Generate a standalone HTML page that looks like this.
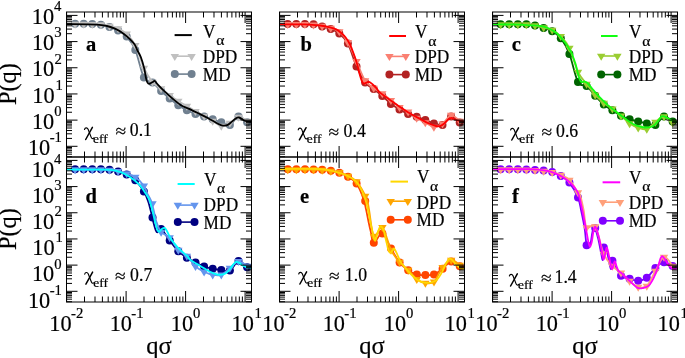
<!DOCTYPE html>
<html><head><meta charset="utf-8"><style>
html,body{margin:0;padding:0;background:#fff;}
svg{display:block;font-family:'Liberation Serif', serif;will-change:transform;}
text{stroke:currentColor;stroke-width:0.2px;}
</style></head><body>
<svg width="685" height="358" viewBox="0 0 685 358" font-family="Liberation Serif">
<rect width="685" height="358" fill="#fff"/>
<clipPath id="clip00"><rect x="66.50" y="12.00" width="185.00" height="145.00"/></clipPath>
<g clip-path="url(#clip00)">
<path d="M75.10 23.80C76.53 23.80 80.83 23.75 83.70 23.80C86.57 23.85 89.43 23.93 92.30 24.10C95.17 24.27 98.03 24.32 100.90 24.80C103.77 25.28 106.63 26.07 109.50 27.00C112.37 27.93 115.23 28.80 118.10 30.40C120.97 32.00 123.83 33.33 126.70 36.60C129.57 39.87 132.43 43.18 135.30 50.00C138.17 56.82 141.03 72.07 143.90 77.50C146.77 82.93 149.63 80.35 152.50 82.60C155.37 84.85 158.23 88.35 161.10 91.00C163.97 93.65 166.83 96.12 169.70 98.50C172.57 100.88 175.43 103.33 178.30 105.30C181.17 107.27 184.03 108.85 186.90 110.30C189.77 111.75 192.63 112.97 195.50 114.00C198.37 115.03 201.23 115.62 204.10 116.50C206.97 117.38 209.83 118.33 212.70 119.30C215.57 120.27 218.43 121.33 221.30 122.30C224.17 123.27 227.03 126.07 229.90 125.10C232.77 124.13 235.63 116.97 238.50 116.50C241.37 116.03 245.67 121.33 247.10 122.30" fill="none" stroke="#708090" stroke-width="1.8"/>
<circle cx="75.1" cy="23.8" r="4" fill="#708090"/>
<circle cx="83.7" cy="23.8" r="4" fill="#708090"/>
<circle cx="92.3" cy="24.1" r="4" fill="#708090"/>
<circle cx="100.9" cy="24.8" r="4" fill="#708090"/>
<circle cx="109.5" cy="27.0" r="4" fill="#708090"/>
<circle cx="118.1" cy="30.4" r="4" fill="#708090"/>
<circle cx="126.7" cy="36.6" r="4" fill="#708090"/>
<circle cx="135.3" cy="50.0" r="4" fill="#708090"/>
<circle cx="143.9" cy="77.5" r="4" fill="#708090"/>
<circle cx="152.5" cy="82.6" r="4" fill="#708090"/>
<circle cx="161.1" cy="91.0" r="4" fill="#708090"/>
<circle cx="169.7" cy="98.5" r="4" fill="#708090"/>
<circle cx="178.3" cy="105.3" r="4" fill="#708090"/>
<circle cx="186.9" cy="110.3" r="4" fill="#708090"/>
<circle cx="195.5" cy="114.0" r="4" fill="#708090"/>
<circle cx="204.1" cy="116.5" r="4" fill="#708090"/>
<circle cx="212.7" cy="119.3" r="4" fill="#708090"/>
<circle cx="221.3" cy="122.3" r="4" fill="#708090"/>
<circle cx="229.9" cy="125.1" r="4" fill="#708090"/>
<circle cx="238.5" cy="116.5" r="4" fill="#708090"/>
<circle cx="247.1" cy="122.3" r="4" fill="#708090"/>
<path d="M75.10 24.00C76.53 24.00 80.83 23.97 83.70 24.00C86.57 24.03 89.43 24.10 92.30 24.20C95.17 24.30 98.03 24.30 100.90 24.60C103.77 24.90 106.63 25.35 109.50 26.00C112.37 26.65 115.23 27.18 118.10 28.50C120.97 29.82 123.83 31.10 126.70 33.90C129.57 36.70 132.43 39.62 135.30 45.30C138.17 50.98 141.03 61.88 143.90 68.00C146.77 74.12 149.63 78.58 152.50 82.00C155.37 85.42 158.23 86.30 161.10 88.50C163.97 90.70 166.83 93.12 169.70 95.20C172.57 97.28 175.43 99.18 178.30 101.00C181.17 102.82 184.03 104.40 186.90 106.10C189.77 107.80 192.63 109.55 195.50 111.20C198.37 112.85 201.23 114.37 204.10 116.00C206.97 117.63 209.83 119.33 212.70 121.00C215.57 122.67 218.43 125.67 221.30 126.00C224.17 126.33 227.03 124.50 229.90 123.00C232.77 121.50 235.63 117.33 238.50 117.00C241.37 116.67 245.67 120.33 247.10 121.00" fill="none" stroke="#c0c0c0" stroke-width="1.8"/>
<path d="M70.9 21.7L79.3 21.7L75.1 28.7Z" fill="#c0c0c0"/>
<path d="M79.5 21.7L87.9 21.7L83.7 28.7Z" fill="#c0c0c0"/>
<path d="M88.1 21.9L96.5 21.9L92.3 28.9Z" fill="#c0c0c0"/>
<path d="M96.7 22.3L105.1 22.3L100.9 29.3Z" fill="#c0c0c0"/>
<path d="M105.3 23.7L113.7 23.7L109.5 30.7Z" fill="#c0c0c0"/>
<path d="M113.9 26.2L122.3 26.2L118.1 33.2Z" fill="#c0c0c0"/>
<path d="M122.5 31.6L130.9 31.6L126.7 38.6Z" fill="#c0c0c0"/>
<path d="M131.1 43.0L139.5 43.0L135.3 50.0Z" fill="#c0c0c0"/>
<path d="M139.7 65.7L148.1 65.7L143.9 72.7Z" fill="#c0c0c0"/>
<path d="M148.3 79.7L156.7 79.7L152.5 86.7Z" fill="#c0c0c0"/>
<path d="M156.9 86.2L165.3 86.2L161.1 93.2Z" fill="#c0c0c0"/>
<path d="M165.5 92.9L173.9 92.9L169.7 99.9Z" fill="#c0c0c0"/>
<path d="M174.1 98.7L182.5 98.7L178.3 105.7Z" fill="#c0c0c0"/>
<path d="M182.7 103.8L191.1 103.8L186.9 110.8Z" fill="#c0c0c0"/>
<path d="M191.3 108.9L199.7 108.9L195.5 115.9Z" fill="#c0c0c0"/>
<path d="M199.9 113.7L208.3 113.7L204.1 120.7Z" fill="#c0c0c0"/>
<path d="M208.5 118.7L216.9 118.7L212.7 125.7Z" fill="#c0c0c0"/>
<path d="M217.1 123.7L225.5 123.7L221.3 130.7Z" fill="#c0c0c0"/>
<path d="M225.7 120.7L234.1 120.7L229.9 127.7Z" fill="#c0c0c0"/>
<path d="M234.3 114.7L242.7 114.7L238.5 121.7Z" fill="#c0c0c0"/>
<path d="M242.9 118.7L251.3 118.7L247.1 125.7Z" fill="#c0c0c0"/>
<path d="M66.60 24.10C71.62 24.18 89.98 24.28 96.70 24.60C103.42 24.92 103.85 25.33 106.90 26.00C109.95 26.67 112.28 27.37 115.00 28.60C117.72 29.83 120.80 31.73 123.20 33.40C125.60 35.07 127.52 36.80 129.40 38.60C131.28 40.40 133.20 42.30 134.50 44.20C135.80 46.10 136.15 47.87 137.20 50.00C138.25 52.13 139.63 53.93 140.80 57.00C141.97 60.07 143.32 64.80 144.20 68.40C145.08 72.00 145.55 76.23 146.10 78.60C146.65 80.97 146.98 81.73 147.50 82.60C148.02 83.47 148.32 83.90 149.20 83.80C150.08 83.70 151.97 82.47 152.80 82.00C153.63 81.53 153.77 81.10 154.20 81.00C154.63 80.90 154.83 80.85 155.40 81.40C155.97 81.95 155.98 82.55 157.60 84.30C159.22 86.05 162.45 89.38 165.10 91.90C167.75 94.42 170.85 97.17 173.50 99.40C176.15 101.63 178.48 103.77 181.00 105.30C183.52 106.83 185.70 107.27 188.60 108.60C191.50 109.93 195.13 111.70 198.40 113.30C201.67 114.90 204.95 116.47 208.20 118.20C211.45 119.93 215.47 122.47 217.90 123.70C220.33 124.93 221.17 125.40 222.80 125.60C224.43 125.80 226.18 125.57 227.70 124.90C229.22 124.23 230.50 122.72 231.90 121.60C233.30 120.48 234.93 118.88 236.10 118.20C237.27 117.52 237.97 117.38 238.90 117.50C239.83 117.62 240.65 118.32 241.70 118.90C242.75 119.48 243.55 120.55 245.20 121.00C246.85 121.45 250.53 121.50 251.60 121.60" fill="none" stroke="#000000" stroke-width="1.8" stroke-linejoin="round"/>
</g>
<line x1="174.6" y1="35.1" x2="191.8" y2="35.1" stroke="#000000" stroke-width="2"/>
<line x1="174.8" y1="56.2" x2="191.6" y2="56.2" stroke="#c0c0c0" stroke-width="1.6"/>
<path d="M170.6 53.9L179.0 53.9L174.8 60.9Z" fill="#c0c0c0"/>
<path d="M187.4 53.9L195.8 53.9L191.6 60.9Z" fill="#c0c0c0"/>
<line x1="174.8" y1="74.1" x2="191.6" y2="74.1" stroke="#708090" stroke-width="1.6"/>
<circle cx="174.8" cy="74.1" r="4" fill="#708090"/>
<circle cx="191.6" cy="74.1" r="4" fill="#708090"/>
<text transform="translate(203.11,37.80) scale(0.97,1)" font-size="17.8" fill="#000" >V</text>
<text transform="translate(216.31,45.20) scale(1.1,1)" font-size="14.2" fill="#000" >α</text>
<text transform="translate(202.80,62.90) scale(0.97,1)" font-size="17.8" fill="#000" >DPD</text>
<text transform="translate(202.80,80.50) scale(0.97,1)" font-size="17.8" fill="#000" >MD</text>
<clipPath id="clip10"><rect x="279.50" y="12.00" width="185.00" height="145.00"/></clipPath>
<g clip-path="url(#clip10)">
<path d="M287.70 24.10C289.13 24.10 293.43 24.10 296.30 24.10C299.17 24.10 302.03 24.08 304.90 24.10C307.77 24.12 310.63 23.80 313.50 24.20C316.37 24.60 319.23 25.72 322.10 26.50C324.97 27.28 327.83 27.72 330.70 28.90C333.57 30.08 336.43 31.15 339.30 33.60C342.17 36.05 345.03 38.13 347.90 43.60C350.77 49.07 353.63 59.92 356.50 66.40C359.37 72.88 362.23 78.72 365.10 82.50C367.97 86.28 370.83 86.85 373.70 89.10C376.57 91.35 379.43 93.53 382.30 96.00C385.17 98.47 388.03 101.67 390.90 103.90C393.77 106.13 396.63 107.73 399.50 109.40C402.37 111.07 405.23 112.67 408.10 113.90C410.97 115.13 413.83 115.78 416.70 116.80C419.57 117.82 422.43 118.88 425.30 120.00C428.17 121.12 431.03 122.68 433.90 123.50C436.77 124.32 439.63 126.07 442.50 124.90C445.37 123.73 448.23 116.92 451.10 116.50C453.97 116.08 458.27 121.42 459.70 122.40" fill="none" stroke="#b22222" stroke-width="1.8"/>
<circle cx="287.7" cy="24.1" r="4" fill="#b22222"/>
<circle cx="296.3" cy="24.1" r="4" fill="#b22222"/>
<circle cx="304.9" cy="24.1" r="4" fill="#b22222"/>
<circle cx="313.5" cy="24.2" r="4" fill="#b22222"/>
<circle cx="322.1" cy="26.5" r="4" fill="#b22222"/>
<circle cx="330.7" cy="28.9" r="4" fill="#b22222"/>
<circle cx="339.3" cy="33.6" r="4" fill="#b22222"/>
<circle cx="347.9" cy="43.6" r="4" fill="#b22222"/>
<circle cx="356.5" cy="66.4" r="4" fill="#b22222"/>
<circle cx="365.1" cy="82.5" r="4" fill="#b22222"/>
<circle cx="373.7" cy="89.1" r="4" fill="#b22222"/>
<circle cx="382.3" cy="96.0" r="4" fill="#b22222"/>
<circle cx="390.9" cy="103.9" r="4" fill="#b22222"/>
<circle cx="399.5" cy="109.4" r="4" fill="#b22222"/>
<circle cx="408.1" cy="113.9" r="4" fill="#b22222"/>
<circle cx="416.7" cy="116.8" r="4" fill="#b22222"/>
<circle cx="425.3" cy="120.0" r="4" fill="#b22222"/>
<circle cx="433.9" cy="123.5" r="4" fill="#b22222"/>
<circle cx="442.5" cy="124.9" r="4" fill="#b22222"/>
<circle cx="451.1" cy="116.5" r="4" fill="#b22222"/>
<circle cx="459.7" cy="122.4" r="4" fill="#b22222"/>
<path d="M287.70 24.30C289.13 24.30 293.43 24.28 296.30 24.30C299.17 24.32 302.03 24.33 304.90 24.40C307.77 24.47 310.63 24.43 313.50 24.70C316.37 24.97 319.23 25.45 322.10 26.00C324.97 26.55 327.83 27.08 330.70 28.00C333.57 28.92 336.43 29.12 339.30 31.50C342.17 33.88 345.03 37.32 347.90 42.30C350.77 47.28 353.63 55.03 356.50 61.40C359.37 67.77 362.23 76.07 365.10 80.50C367.97 84.93 370.83 85.83 373.70 88.00C376.57 90.17 379.43 91.47 382.30 93.50C385.17 95.53 388.03 97.92 390.90 100.20C393.77 102.48 396.63 105.25 399.50 107.20C402.37 109.15 405.23 110.10 408.10 111.90C410.97 113.70 413.83 116.23 416.70 118.00C419.57 119.77 422.43 121.00 425.30 122.50C428.17 124.00 431.03 126.78 433.90 127.00C436.77 127.22 439.63 125.78 442.50 123.80C445.37 121.82 448.23 115.57 451.10 115.10C453.97 114.63 458.27 120.02 459.70 121.00" fill="none" stroke="#fa8072" stroke-width="1.8"/>
<path d="M283.5 22.0L291.9 22.0L287.7 29.0Z" fill="#fa8072"/>
<path d="M292.1 22.0L300.5 22.0L296.3 29.0Z" fill="#fa8072"/>
<path d="M300.7 22.1L309.1 22.1L304.9 29.1Z" fill="#fa8072"/>
<path d="M309.3 22.4L317.7 22.4L313.5 29.4Z" fill="#fa8072"/>
<path d="M317.9 23.7L326.3 23.7L322.1 30.7Z" fill="#fa8072"/>
<path d="M326.5 25.7L334.9 25.7L330.7 32.7Z" fill="#fa8072"/>
<path d="M335.1 29.2L343.5 29.2L339.3 36.2Z" fill="#fa8072"/>
<path d="M343.7 40.0L352.1 40.0L347.9 47.0Z" fill="#fa8072"/>
<path d="M352.3 59.1L360.7 59.1L356.5 66.1Z" fill="#fa8072"/>
<path d="M360.9 78.2L369.3 78.2L365.1 85.2Z" fill="#fa8072"/>
<path d="M369.5 85.7L377.9 85.7L373.7 92.7Z" fill="#fa8072"/>
<path d="M378.1 91.2L386.5 91.2L382.3 98.2Z" fill="#fa8072"/>
<path d="M386.7 97.9L395.1 97.9L390.9 104.9Z" fill="#fa8072"/>
<path d="M395.3 104.9L403.7 104.9L399.5 111.9Z" fill="#fa8072"/>
<path d="M403.9 109.6L412.3 109.6L408.1 116.6Z" fill="#fa8072"/>
<path d="M412.5 115.7L420.9 115.7L416.7 122.7Z" fill="#fa8072"/>
<path d="M421.1 120.2L429.5 120.2L425.3 127.2Z" fill="#fa8072"/>
<path d="M429.7 124.7L438.1 124.7L433.9 131.7Z" fill="#fa8072"/>
<path d="M438.3 121.5L446.7 121.5L442.5 128.5Z" fill="#fa8072"/>
<path d="M446.9 112.8L455.3 112.8L451.1 119.8Z" fill="#fa8072"/>
<path d="M455.5 118.7L463.9 118.7L459.7 125.7Z" fill="#fa8072"/>
<path d="M279.60 24.30C283.83 24.32 298.27 24.20 305.00 24.40C311.73 24.60 315.83 25.02 320.00 25.50C324.17 25.98 327.30 26.65 330.00 27.30C332.70 27.95 334.38 28.50 336.20 29.40C338.02 30.30 339.35 31.38 340.90 32.70C342.45 34.02 343.98 35.33 345.50 37.30C347.02 39.27 348.65 41.78 350.00 44.50C351.35 47.22 352.53 50.72 353.60 53.60C354.67 56.48 355.63 59.37 356.40 61.80C357.17 64.23 357.60 65.92 358.20 68.20C358.80 70.48 359.40 73.38 360.00 75.50C360.60 77.62 361.20 79.55 361.80 80.90C362.40 82.25 362.83 83.30 363.60 83.60C364.37 83.90 365.48 83.00 366.40 82.70C367.32 82.40 368.05 81.50 369.10 81.80C370.15 82.10 371.48 83.43 372.70 84.50C373.92 85.57 375.18 86.83 376.40 88.20C377.62 89.57 378.27 91.12 380.00 92.70C381.73 94.28 383.72 95.48 386.80 97.70C389.88 99.92 394.60 103.35 398.50 106.00C402.40 108.65 406.52 111.40 410.20 113.60C413.88 115.80 417.47 117.55 420.60 119.20C423.73 120.85 426.43 122.37 429.00 123.50C431.57 124.63 434.15 125.58 436.00 126.00C437.85 126.42 438.72 126.42 440.10 126.00C441.48 125.58 442.90 124.62 444.30 123.50C445.70 122.38 447.33 120.23 448.50 119.30C449.67 118.37 450.37 117.95 451.30 117.90C452.23 117.85 452.93 118.53 454.10 119.00C455.27 119.47 456.55 120.30 458.30 120.70C460.05 121.10 463.55 121.28 464.60 121.40" fill="none" stroke="#ff0000" stroke-width="1.8" stroke-linejoin="round"/>
</g>
<line x1="389.2" y1="36.0" x2="406.0" y2="36.0" stroke="#ff0000" stroke-width="2"/>
<line x1="389.4" y1="56.4" x2="405.8" y2="56.4" stroke="#fa8072" stroke-width="1.6"/>
<path d="M385.2 54.1L393.6 54.1L389.4 61.1Z" fill="#fa8072"/>
<path d="M401.6 54.1L410.0 54.1L405.8 61.1Z" fill="#fa8072"/>
<line x1="389.4" y1="74.6" x2="405.8" y2="74.6" stroke="#b22222" stroke-width="1.6"/>
<circle cx="389.4" cy="74.6" r="4" fill="#b22222"/>
<circle cx="405.8" cy="74.6" r="4" fill="#b22222"/>
<text transform="translate(415.01,38.20) scale(0.97,1)" font-size="17.8" fill="#000" >V</text>
<text transform="translate(428.21,45.60) scale(1.1,1)" font-size="14.2" fill="#000" >α</text>
<text transform="translate(414.70,63.20) scale(0.97,1)" font-size="17.8" fill="#000" >DPD</text>
<text transform="translate(414.70,80.90) scale(0.97,1)" font-size="17.8" fill="#000" >MD</text>
<clipPath id="clip20"><rect x="492.50" y="12.00" width="185.00" height="145.00"/></clipPath>
<g clip-path="url(#clip20)">
<path d="M500.60 24.20C502.03 24.20 506.33 24.20 509.20 24.20C512.07 24.20 514.93 24.18 517.80 24.20C520.67 24.22 523.53 24.10 526.40 24.30C529.27 24.50 532.13 24.78 535.00 25.40C537.87 26.02 540.73 27.03 543.60 28.00C546.47 28.97 549.33 29.48 552.20 31.20C555.07 32.92 557.93 34.50 560.80 38.30C563.67 42.10 566.53 46.72 569.40 54.00C572.27 61.28 575.13 76.67 578.00 82.00C580.87 87.33 583.73 83.72 586.60 86.00C589.47 88.28 592.33 92.60 595.20 95.70C598.07 98.80 600.93 102.17 603.80 104.60C606.67 107.03 609.53 108.43 612.40 110.30C615.27 112.17 618.13 114.30 621.00 115.80C623.87 117.30 626.73 118.37 629.60 119.30C632.47 120.23 635.33 120.70 638.20 121.40C641.07 122.10 643.93 122.92 646.80 123.50C649.67 124.08 652.53 126.07 655.40 124.90C658.27 123.73 661.13 117.08 664.00 116.50C666.87 115.92 671.17 120.58 672.60 121.40" fill="none" stroke="#006400" stroke-width="1.8"/>
<circle cx="500.6" cy="24.2" r="4" fill="#006400"/>
<circle cx="509.2" cy="24.2" r="4" fill="#006400"/>
<circle cx="517.8" cy="24.2" r="4" fill="#006400"/>
<circle cx="526.4" cy="24.3" r="4" fill="#006400"/>
<circle cx="535.0" cy="25.4" r="4" fill="#006400"/>
<circle cx="543.6" cy="28.0" r="4" fill="#006400"/>
<circle cx="552.2" cy="31.2" r="4" fill="#006400"/>
<circle cx="560.8" cy="38.3" r="4" fill="#006400"/>
<circle cx="569.4" cy="54.0" r="4" fill="#006400"/>
<circle cx="578.0" cy="82.0" r="4" fill="#006400"/>
<circle cx="586.6" cy="86.0" r="4" fill="#006400"/>
<circle cx="595.2" cy="95.7" r="4" fill="#006400"/>
<circle cx="603.8" cy="104.6" r="4" fill="#006400"/>
<circle cx="612.4" cy="110.3" r="4" fill="#006400"/>
<circle cx="621.0" cy="115.8" r="4" fill="#006400"/>
<circle cx="629.6" cy="119.3" r="4" fill="#006400"/>
<circle cx="638.2" cy="121.4" r="4" fill="#006400"/>
<circle cx="646.8" cy="123.5" r="4" fill="#006400"/>
<circle cx="655.4" cy="124.9" r="4" fill="#006400"/>
<circle cx="664.0" cy="116.5" r="4" fill="#006400"/>
<circle cx="672.6" cy="121.4" r="4" fill="#006400"/>
<path d="M500.60 24.50C502.03 24.50 506.33 24.50 509.20 24.50C512.07 24.50 514.93 24.48 517.80 24.50C520.67 24.52 523.53 24.43 526.40 24.60C529.27 24.77 532.13 25.02 535.00 25.50C537.87 25.98 540.73 26.75 543.60 27.50C546.47 28.25 549.33 28.52 552.20 30.00C555.07 31.48 557.93 33.40 560.80 36.40C563.67 39.40 566.53 42.07 569.40 48.00C572.27 53.93 575.13 66.00 578.00 72.00C580.87 78.00 583.73 80.17 586.60 84.00C589.47 87.83 592.33 91.83 595.20 95.00C598.07 98.17 600.93 100.68 603.80 103.00C606.67 105.32 609.53 106.77 612.40 108.90C615.27 111.03 618.13 113.37 621.00 115.80C623.87 118.23 626.73 121.52 629.60 123.50C632.47 125.48 635.33 126.77 638.20 127.70C641.07 128.63 643.93 130.03 646.80 129.10C649.67 128.17 652.53 124.20 655.40 122.10C658.27 120.00 661.13 116.38 664.00 116.50C666.87 116.62 671.17 121.75 672.60 122.80" fill="none" stroke="#9acd32" stroke-width="1.8"/>
<path d="M496.4 22.2L504.8 22.2L500.6 29.2Z" fill="#9acd32"/>
<path d="M505.0 22.2L513.4 22.2L509.2 29.2Z" fill="#9acd32"/>
<path d="M513.6 22.2L522.0 22.2L517.8 29.2Z" fill="#9acd32"/>
<path d="M522.2 22.3L530.6 22.3L526.4 29.3Z" fill="#9acd32"/>
<path d="M530.8 23.2L539.2 23.2L535.0 30.2Z" fill="#9acd32"/>
<path d="M539.4 25.2L547.8 25.2L543.6 32.2Z" fill="#9acd32"/>
<path d="M548.0 27.7L556.4 27.7L552.2 34.7Z" fill="#9acd32"/>
<path d="M556.6 34.1L565.0 34.1L560.8 41.1Z" fill="#9acd32"/>
<path d="M565.2 45.7L573.6 45.7L569.4 52.7Z" fill="#9acd32"/>
<path d="M573.8 69.7L582.2 69.7L578.0 76.7Z" fill="#9acd32"/>
<path d="M582.4 81.7L590.8 81.7L586.6 88.7Z" fill="#9acd32"/>
<path d="M591.0 92.7L599.4 92.7L595.2 99.7Z" fill="#9acd32"/>
<path d="M599.6 100.7L608.0 100.7L603.8 107.7Z" fill="#9acd32"/>
<path d="M608.2 106.6L616.6 106.6L612.4 113.6Z" fill="#9acd32"/>
<path d="M616.8 113.5L625.2 113.5L621.0 120.5Z" fill="#9acd32"/>
<path d="M625.4 121.2L633.8 121.2L629.6 128.2Z" fill="#9acd32"/>
<path d="M634.0 125.4L642.4 125.4L638.2 132.4Z" fill="#9acd32"/>
<path d="M642.6 126.8L651.0 126.8L646.8 133.8Z" fill="#9acd32"/>
<path d="M651.2 119.8L659.6 119.8L655.4 126.8Z" fill="#9acd32"/>
<path d="M659.8 114.2L668.2 114.2L664.0 121.2Z" fill="#9acd32"/>
<path d="M668.4 120.5L676.8 120.5L672.6 127.5Z" fill="#9acd32"/>
<path d="M492.60 24.40C497.17 24.43 513.77 24.45 520.00 24.60C526.23 24.75 526.67 25.08 530.00 25.30C533.33 25.52 536.93 25.42 540.00 25.90C543.07 26.38 545.60 26.97 548.40 28.20C551.20 29.43 554.38 31.37 556.80 33.30C559.22 35.23 561.28 37.93 562.90 39.80C564.52 41.67 565.35 42.83 566.50 44.50C567.65 46.17 568.92 48.30 569.80 49.80C570.68 51.30 570.98 51.55 571.80 53.50C572.62 55.45 574.00 59.50 574.70 61.50C575.40 63.50 575.52 63.70 576.00 65.50C576.48 67.30 577.00 70.03 577.60 72.30C578.20 74.57 578.95 77.48 579.60 79.10C580.25 80.72 580.70 81.60 581.50 82.00C582.30 82.40 583.42 81.33 584.40 81.50C585.38 81.67 585.93 81.60 587.40 83.00C588.87 84.40 591.25 87.62 593.20 89.90C595.15 92.18 596.72 94.20 599.10 96.70C601.48 99.20 604.55 102.30 607.50 104.90C610.45 107.50 613.87 110.02 616.80 112.30C619.73 114.58 622.32 116.62 625.10 118.60C627.88 120.58 630.70 122.80 633.50 124.20C636.30 125.60 639.33 126.47 641.90 127.00C644.47 127.53 646.92 127.63 648.90 127.40C650.88 127.17 652.17 126.83 653.80 125.60C655.43 124.37 657.42 121.52 658.70 120.00C659.98 118.48 660.58 117.12 661.50 116.50C662.42 115.88 663.05 115.95 664.20 116.30C665.35 116.65 667.00 117.82 668.40 118.60C669.80 119.38 671.07 120.43 672.60 121.00C674.13 121.57 676.77 121.83 677.60 122.00" fill="none" stroke="#11ff11" stroke-width="1.8" stroke-linejoin="round"/>
</g>
<line x1="601.0" y1="36.0" x2="617.6" y2="36.0" stroke="#11ff11" stroke-width="2"/>
<line x1="601.2" y1="56.0" x2="617.4" y2="56.0" stroke="#9acd32" stroke-width="1.6"/>
<path d="M597.0 53.7L605.4 53.7L601.2 60.7Z" fill="#9acd32"/>
<path d="M613.2 53.7L621.6 53.7L617.4 60.7Z" fill="#9acd32"/>
<line x1="601.2" y1="74.6" x2="617.4" y2="74.6" stroke="#006400" stroke-width="1.6"/>
<circle cx="601.2" cy="74.6" r="4" fill="#006400"/>
<circle cx="617.4" cy="74.6" r="4" fill="#006400"/>
<text transform="translate(629.01,38.20) scale(0.97,1)" font-size="17.8" fill="#000" >V</text>
<text transform="translate(642.21,45.60) scale(1.1,1)" font-size="14.2" fill="#000" >α</text>
<text transform="translate(628.70,63.20) scale(0.97,1)" font-size="17.8" fill="#000" >DPD</text>
<text transform="translate(628.70,80.90) scale(0.97,1)" font-size="17.8" fill="#000" >MD</text>
<clipPath id="clip01"><rect x="66.50" y="157.00" width="185.00" height="145.00"/></clipPath>
<g clip-path="url(#clip01)">
<path d="M75.10 169.20C76.53 169.20 80.83 169.20 83.70 169.20C86.57 169.20 89.43 169.18 92.30 169.20C95.17 169.22 98.03 169.20 100.90 169.30C103.77 169.40 106.63 169.42 109.50 169.80C112.37 170.18 115.23 170.80 118.10 171.60C120.97 172.40 123.83 173.15 126.70 174.60C129.57 176.05 132.43 177.50 135.30 180.30C138.17 183.10 141.75 187.87 143.90 191.40C146.05 194.93 147.00 198.03 148.20 201.50C149.40 204.97 150.23 208.75 151.10 212.20C151.97 215.65 152.63 219.22 153.40 222.20C154.17 225.18 155.03 228.42 155.70 230.10C156.37 231.78 156.50 232.48 157.40 232.30C158.30 232.12 159.05 227.63 161.10 229.00C163.15 230.37 166.83 236.80 169.70 240.50C172.57 244.20 175.43 248.33 178.30 251.20C181.17 254.07 184.03 255.80 186.90 257.70C189.77 259.60 192.63 261.13 195.50 262.60C198.37 264.07 201.23 265.47 204.10 266.50C206.97 267.53 209.83 268.22 212.70 268.80C215.57 269.38 218.43 269.70 221.30 270.00C224.17 270.30 227.03 272.08 229.90 270.60C232.77 269.12 235.63 261.67 238.50 261.10C241.37 260.53 245.67 266.18 247.10 267.20" fill="none" stroke="#000080" stroke-width="1.8"/>
<circle cx="75.1" cy="169.2" r="4" fill="#000080"/>
<circle cx="83.7" cy="169.2" r="4" fill="#000080"/>
<circle cx="92.3" cy="169.2" r="4" fill="#000080"/>
<circle cx="100.9" cy="169.3" r="4" fill="#000080"/>
<circle cx="109.5" cy="169.8" r="4" fill="#000080"/>
<circle cx="118.1" cy="171.6" r="4" fill="#000080"/>
<circle cx="126.7" cy="174.6" r="4" fill="#000080"/>
<circle cx="135.3" cy="180.3" r="4" fill="#000080"/>
<circle cx="143.9" cy="191.4" r="4" fill="#000080"/>
<circle cx="152.5" cy="217.6" r="4" fill="#000080"/>
<circle cx="161.1" cy="229.0" r="4" fill="#000080"/>
<circle cx="169.7" cy="240.5" r="4" fill="#000080"/>
<circle cx="178.3" cy="251.2" r="4" fill="#000080"/>
<circle cx="186.9" cy="257.7" r="4" fill="#000080"/>
<circle cx="195.5" cy="262.6" r="4" fill="#000080"/>
<circle cx="204.1" cy="266.5" r="4" fill="#000080"/>
<circle cx="212.7" cy="268.8" r="4" fill="#000080"/>
<circle cx="221.3" cy="270.0" r="4" fill="#000080"/>
<circle cx="229.9" cy="270.6" r="4" fill="#000080"/>
<circle cx="238.5" cy="261.1" r="4" fill="#000080"/>
<circle cx="247.1" cy="267.2" r="4" fill="#000080"/>
<path d="M75.10 169.50C76.53 169.50 80.83 169.50 83.70 169.50C86.57 169.50 89.43 169.48 92.30 169.50C95.17 169.52 98.03 169.52 100.90 169.60C103.77 169.68 106.63 169.72 109.50 170.00C112.37 170.28 115.23 170.72 118.10 171.30C120.97 171.88 123.83 172.53 126.70 173.50C129.57 174.47 132.43 175.03 135.30 177.10C138.17 179.17 141.88 183.12 143.90 185.90C145.92 188.68 146.22 191.37 147.40 193.80C148.58 196.23 149.92 197.60 151.00 200.50C152.08 203.40 153.03 207.75 153.90 211.20C154.77 214.65 155.00 217.73 156.20 221.20C157.40 224.67 158.85 229.28 161.10 232.00C163.35 234.72 166.83 234.50 169.70 237.50C172.57 240.50 175.43 246.92 178.30 250.00C181.17 253.08 184.03 253.28 186.90 256.00C189.77 258.72 192.63 263.68 195.50 266.30C198.37 268.92 201.23 270.28 204.10 271.70C206.97 273.12 209.83 274.28 212.70 274.80C215.57 275.32 218.43 275.93 221.30 274.80C224.17 273.67 227.03 270.25 229.90 268.00C232.77 265.75 235.63 261.63 238.50 261.30C241.37 260.97 245.67 265.22 247.10 266.00" fill="none" stroke="#6495ed" stroke-width="1.8"/>
<path d="M70.9 167.2L79.3 167.2L75.1 174.2Z" fill="#6495ed"/>
<path d="M79.5 167.2L87.9 167.2L83.7 174.2Z" fill="#6495ed"/>
<path d="M88.1 167.2L96.5 167.2L92.3 174.2Z" fill="#6495ed"/>
<path d="M96.7 167.3L105.1 167.3L100.9 174.3Z" fill="#6495ed"/>
<path d="M105.3 167.7L113.7 167.7L109.5 174.7Z" fill="#6495ed"/>
<path d="M113.9 169.0L122.3 169.0L118.1 176.0Z" fill="#6495ed"/>
<path d="M122.5 171.2L130.9 171.2L126.7 178.2Z" fill="#6495ed"/>
<path d="M131.1 174.8L139.5 174.8L135.3 181.8Z" fill="#6495ed"/>
<path d="M139.7 183.6L148.1 183.6L143.9 190.6Z" fill="#6495ed"/>
<path d="M148.3 201.2L156.7 201.2L152.5 208.2Z" fill="#6495ed"/>
<path d="M156.9 229.7L165.3 229.7L161.1 236.7Z" fill="#6495ed"/>
<path d="M165.5 235.2L173.9 235.2L169.7 242.2Z" fill="#6495ed"/>
<path d="M174.1 247.7L182.5 247.7L178.3 254.7Z" fill="#6495ed"/>
<path d="M182.7 253.7L191.1 253.7L186.9 260.7Z" fill="#6495ed"/>
<path d="M191.3 264.0L199.7 264.0L195.5 271.0Z" fill="#6495ed"/>
<path d="M199.9 269.4L208.3 269.4L204.1 276.4Z" fill="#6495ed"/>
<path d="M208.5 272.5L216.9 272.5L212.7 279.5Z" fill="#6495ed"/>
<path d="M217.1 272.5L225.5 272.5L221.3 279.5Z" fill="#6495ed"/>
<path d="M225.7 265.7L234.1 265.7L229.9 272.7Z" fill="#6495ed"/>
<path d="M234.3 259.0L242.7 259.0L238.5 266.0Z" fill="#6495ed"/>
<path d="M242.9 263.7L251.3 263.7L247.1 270.7Z" fill="#6495ed"/>
<path d="M66.60 169.50C72.17 169.52 92.77 169.53 100.00 169.60C107.23 169.67 106.70 169.53 110.00 169.90C113.30 170.27 116.53 170.67 119.80 171.80C123.07 172.93 126.35 174.57 129.60 176.70C132.85 178.83 136.53 181.67 139.30 184.60C142.07 187.53 144.45 191.57 146.20 194.30C147.95 197.03 148.72 198.10 149.80 201.00C150.88 203.90 151.83 208.25 152.70 211.70C153.57 215.15 154.23 218.72 155.00 221.70C155.77 224.68 156.63 227.92 157.30 229.60C157.97 231.28 158.25 231.90 159.00 231.80C159.75 231.70 160.87 229.65 161.80 229.00C162.73 228.35 163.68 227.43 164.60 227.90C165.52 228.37 166.28 230.03 167.30 231.80C168.32 233.57 169.58 236.63 170.70 238.50C171.82 240.37 172.60 241.27 174.00 243.00C175.40 244.73 176.95 246.78 179.10 248.90C181.25 251.02 185.08 253.92 186.90 255.70C188.72 257.48 188.47 258.32 190.00 259.60C191.53 260.88 194.05 262.13 196.10 263.40C198.15 264.67 199.98 265.80 202.30 267.20C204.62 268.60 207.45 270.57 210.00 271.80C212.55 273.03 215.30 274.22 217.60 274.60C219.90 274.98 222.00 274.68 223.80 274.10C225.60 273.52 226.87 272.63 228.40 271.10C229.93 269.57 231.73 266.43 233.00 264.90C234.27 263.37 234.98 262.28 236.00 261.90C237.02 261.52 237.93 261.97 239.10 262.60C240.27 263.23 241.47 264.88 243.00 265.70C244.53 266.52 246.87 267.15 248.30 267.50C249.73 267.85 251.05 267.75 251.60 267.80" fill="none" stroke="#00ffff" stroke-width="1.8" stroke-linejoin="round"/>
</g>
<line x1="177.6" y1="184.0" x2="194.7" y2="184.0" stroke="#00ffff" stroke-width="2"/>
<line x1="177.8" y1="205.1" x2="194.5" y2="205.1" stroke="#6495ed" stroke-width="1.6"/>
<path d="M173.6 202.8L182.0 202.8L177.8 209.8Z" fill="#6495ed"/>
<path d="M190.3 202.8L198.7 202.8L194.5 209.8Z" fill="#6495ed"/>
<line x1="177.8" y1="222.1" x2="194.5" y2="222.1" stroke="#000080" stroke-width="1.6"/>
<circle cx="177.8" cy="222.1" r="4" fill="#000080"/>
<circle cx="194.5" cy="222.1" r="4" fill="#000080"/>
<text transform="translate(203.91,185.90) scale(0.97,1)" font-size="17.8" fill="#000" >V</text>
<text transform="translate(217.11,193.30) scale(1.1,1)" font-size="14.2" fill="#000" >α</text>
<text transform="translate(203.60,211.00) scale(0.97,1)" font-size="17.8" fill="#000" >DPD</text>
<text transform="translate(203.60,228.70) scale(0.97,1)" font-size="17.8" fill="#000" >MD</text>
<clipPath id="clip11"><rect x="279.50" y="157.00" width="185.00" height="145.00"/></clipPath>
<g clip-path="url(#clip11)">
<path d="M287.80 169.20C289.23 169.20 293.53 169.20 296.40 169.20C299.27 169.20 302.13 169.17 305.00 169.20C307.87 169.23 310.73 169.30 313.60 169.40C316.47 169.50 319.33 169.57 322.20 169.80C325.07 170.03 327.93 170.30 330.80 170.80C333.67 171.30 336.53 171.82 339.40 172.80C342.27 173.78 345.13 174.92 348.00 176.70C350.87 178.48 354.03 179.83 356.60 183.50C359.17 187.17 361.82 194.35 363.40 198.70C364.98 203.05 365.28 205.97 366.10 209.60C366.92 213.23 367.53 216.87 368.30 220.50C369.07 224.13 369.78 227.70 370.70 231.40C371.62 235.10 371.85 242.35 373.80 242.70C375.75 243.05 379.53 232.53 382.40 233.50C385.27 234.47 388.13 243.68 391.00 248.50C393.87 253.32 396.73 258.78 399.60 262.40C402.47 266.02 405.33 268.17 408.20 270.20C411.07 272.23 413.93 273.80 416.80 274.60C419.67 275.40 422.53 275.00 425.40 275.00C428.27 275.00 431.13 275.65 434.00 274.60C436.87 273.55 439.73 270.88 442.60 268.70C445.47 266.52 448.33 261.92 451.20 261.50C454.07 261.08 458.37 265.42 459.80 266.20" fill="none" stroke="#ff4500" stroke-width="1.8"/>
<circle cx="287.8" cy="169.2" r="4" fill="#ff4500"/>
<circle cx="296.4" cy="169.2" r="4" fill="#ff4500"/>
<circle cx="305.0" cy="169.2" r="4" fill="#ff4500"/>
<circle cx="313.6" cy="169.4" r="4" fill="#ff4500"/>
<circle cx="322.2" cy="169.8" r="4" fill="#ff4500"/>
<circle cx="330.8" cy="170.8" r="4" fill="#ff4500"/>
<circle cx="339.4" cy="172.8" r="4" fill="#ff4500"/>
<circle cx="348.0" cy="176.7" r="4" fill="#ff4500"/>
<circle cx="356.6" cy="183.5" r="4" fill="#ff4500"/>
<circle cx="365.2" cy="201.0" r="4" fill="#ff4500"/>
<circle cx="373.8" cy="242.7" r="4" fill="#ff4500"/>
<circle cx="382.4" cy="233.5" r="4" fill="#ff4500"/>
<circle cx="391.0" cy="248.5" r="4" fill="#ff4500"/>
<circle cx="399.6" cy="262.4" r="4" fill="#ff4500"/>
<circle cx="408.2" cy="270.2" r="4" fill="#ff4500"/>
<circle cx="416.8" cy="274.6" r="4" fill="#ff4500"/>
<circle cx="425.4" cy="275.0" r="4" fill="#ff4500"/>
<circle cx="434.0" cy="274.6" r="4" fill="#ff4500"/>
<circle cx="442.6" cy="268.7" r="4" fill="#ff4500"/>
<circle cx="451.2" cy="261.5" r="4" fill="#ff4500"/>
<circle cx="459.8" cy="266.2" r="4" fill="#ff4500"/>
<path d="M287.80 169.50C289.23 169.50 293.53 169.50 296.40 169.50C299.27 169.50 302.13 169.48 305.00 169.50C307.87 169.52 310.73 169.52 313.60 169.60C316.47 169.68 319.33 169.77 322.20 170.00C325.07 170.23 327.93 170.62 330.80 171.00C333.67 171.38 336.53 171.47 339.40 172.30C342.27 173.13 345.13 174.47 348.00 176.00C350.87 177.53 353.57 177.88 356.60 181.50C359.63 185.12 364.15 193.18 366.20 197.70C368.25 202.22 367.63 202.22 368.90 208.60C370.17 214.98 371.55 232.87 373.80 236.00C376.05 239.13 379.53 225.07 382.40 227.40C385.27 229.73 388.13 244.23 391.00 250.00C393.87 255.77 396.73 258.67 399.60 262.00C402.47 265.33 405.33 267.13 408.20 270.00C411.07 272.87 413.93 277.03 416.80 279.20C419.67 281.37 422.53 282.58 425.40 283.00C428.27 283.42 431.13 284.32 434.00 281.70C436.87 279.08 439.73 270.92 442.60 267.30C445.47 263.68 448.33 260.38 451.20 260.00C454.07 259.62 458.37 264.17 459.80 265.00" fill="none" stroke="#ffa500" stroke-width="1.8"/>
<path d="M283.6 167.2L292.0 167.2L287.8 174.2Z" fill="#ffa500"/>
<path d="M292.2 167.2L300.6 167.2L296.4 174.2Z" fill="#ffa500"/>
<path d="M300.8 167.2L309.2 167.2L305.0 174.2Z" fill="#ffa500"/>
<path d="M309.4 167.3L317.8 167.3L313.6 174.3Z" fill="#ffa500"/>
<path d="M318.0 167.7L326.4 167.7L322.2 174.7Z" fill="#ffa500"/>
<path d="M326.6 168.7L335.0 168.7L330.8 175.7Z" fill="#ffa500"/>
<path d="M335.2 170.0L343.6 170.0L339.4 177.0Z" fill="#ffa500"/>
<path d="M343.8 173.7L352.2 173.7L348.0 180.7Z" fill="#ffa500"/>
<path d="M352.4 179.2L360.8 179.2L356.6 186.2Z" fill="#ffa500"/>
<path d="M361.0 193.7L369.4 193.7L365.2 200.7Z" fill="#ffa500"/>
<path d="M369.6 233.7L378.0 233.7L373.8 240.7Z" fill="#ffa500"/>
<path d="M378.2 225.1L386.6 225.1L382.4 232.1Z" fill="#ffa500"/>
<path d="M386.8 247.7L395.2 247.7L391.0 254.7Z" fill="#ffa500"/>
<path d="M395.4 259.7L403.8 259.7L399.6 266.7Z" fill="#ffa500"/>
<path d="M404.0 267.7L412.4 267.7L408.2 274.7Z" fill="#ffa500"/>
<path d="M412.6 276.9L421.0 276.9L416.8 283.9Z" fill="#ffa500"/>
<path d="M421.2 280.7L429.6 280.7L425.4 287.7Z" fill="#ffa500"/>
<path d="M429.8 279.4L438.2 279.4L434.0 286.4Z" fill="#ffa500"/>
<path d="M438.4 265.0L446.8 265.0L442.6 272.0Z" fill="#ffa500"/>
<path d="M447.0 257.7L455.4 257.7L451.2 264.7Z" fill="#ffa500"/>
<path d="M455.6 262.7L464.0 262.7L459.8 269.7Z" fill="#ffa500"/>
<path d="M279.60 169.00C286.33 169.00 310.67 168.53 320.00 169.00C329.33 169.47 331.03 170.68 335.60 171.80C340.17 172.92 343.97 174.07 347.40 175.70C350.83 177.33 354.02 179.52 356.20 181.60C358.38 183.68 359.03 185.43 360.50 188.20C361.97 190.97 363.80 194.72 365.00 198.20C366.20 201.68 366.88 205.47 367.70 209.10C368.52 212.73 369.13 216.37 369.90 220.00C370.67 223.63 371.60 227.87 372.30 230.90C373.00 233.93 373.58 236.60 374.10 238.20C374.62 239.80 374.80 241.42 375.40 240.50C376.00 239.58 376.85 235.05 377.70 232.70C378.55 230.35 379.53 226.82 380.50 226.40C381.47 225.98 382.58 227.90 383.50 230.20C384.42 232.50 385.17 236.85 386.00 240.20C386.83 243.55 387.80 248.20 388.50 250.30C389.20 252.40 389.50 252.80 390.20 252.80C390.90 252.80 392.02 251.00 392.70 250.30C393.38 249.60 393.60 248.05 394.30 248.60C395.00 249.15 396.05 251.78 396.90 253.60C397.75 255.42 398.72 258.02 399.40 259.50C400.08 260.98 399.63 260.63 401.00 262.50C402.37 264.37 405.47 268.28 407.60 270.70C409.73 273.12 411.72 275.22 413.80 277.00C415.88 278.78 418.00 280.42 420.10 281.40C422.20 282.38 424.30 282.80 426.40 282.90C428.50 283.00 430.82 282.67 432.70 282.00C434.58 281.33 436.13 280.57 437.70 278.90C439.27 277.23 440.73 274.52 442.10 272.00C443.47 269.48 444.75 265.97 445.90 263.80C447.05 261.63 448.07 259.73 449.00 259.00C449.93 258.27 450.45 258.60 451.50 259.40C452.55 260.20 453.83 262.33 455.30 263.80C456.77 265.27 458.75 267.42 460.30 268.20C461.85 268.98 463.88 268.45 464.60 268.50" fill="none" stroke="#ffd700" stroke-width="1.8" stroke-linejoin="round"/>
</g>
<line x1="390.5" y1="181.6" x2="408.0" y2="181.6" stroke="#ffd700" stroke-width="2"/>
<line x1="390.7" y1="201.2" x2="407.8" y2="201.2" stroke="#ffa500" stroke-width="1.6"/>
<path d="M386.5 198.9L394.9 198.9L390.7 205.9Z" fill="#ffa500"/>
<path d="M403.6 198.9L412.0 198.9L407.8 205.9Z" fill="#ffa500"/>
<line x1="390.7" y1="219.8" x2="407.8" y2="219.8" stroke="#ff4500" stroke-width="1.6"/>
<circle cx="390.7" cy="219.8" r="4" fill="#ff4500"/>
<circle cx="407.8" cy="219.8" r="4" fill="#ff4500"/>
<text transform="translate(416.91,183.40) scale(0.97,1)" font-size="17.8" fill="#000" >V</text>
<text transform="translate(430.11,190.80) scale(1.1,1)" font-size="14.2" fill="#000" >α</text>
<text transform="translate(416.60,208.60) scale(0.97,1)" font-size="17.8" fill="#000" >DPD</text>
<text transform="translate(416.60,226.10) scale(0.97,1)" font-size="17.8" fill="#000" >MD</text>
<clipPath id="clip21"><rect x="492.50" y="157.00" width="185.00" height="145.00"/></clipPath>
<g clip-path="url(#clip21)">
<path d="M500.60 169.30C502.03 169.30 506.33 169.30 509.20 169.30C512.07 169.30 514.93 169.27 517.80 169.30C520.67 169.33 523.53 169.38 526.40 169.50C529.27 169.62 532.13 169.85 535.00 170.00C537.87 170.15 540.73 170.05 543.60 170.40C546.47 170.75 549.33 171.18 552.20 172.10C555.07 173.02 557.93 174.15 560.80 175.90C563.67 177.65 566.53 178.98 569.40 182.60C572.27 186.22 576.02 192.82 578.00 197.60C579.98 202.38 580.18 206.10 581.30 211.30C582.42 216.50 583.82 223.13 584.70 228.80C585.58 234.47 585.87 242.23 586.60 245.30C587.33 248.37 588.40 247.72 589.10 247.20C589.80 246.68 590.25 244.70 590.80 242.20C591.35 239.70 591.80 234.70 592.40 232.20C593.00 229.70 593.43 226.12 594.40 227.20C595.37 228.28 597.05 234.22 598.20 238.70C599.35 243.18 600.53 250.58 601.30 254.10C602.07 257.62 602.38 260.92 602.80 259.80C603.22 258.68 603.28 249.38 603.80 247.40C604.32 245.42 605.23 246.58 605.90 247.90C606.57 249.22 607.17 252.48 607.80 255.30C608.43 258.12 609.12 262.50 609.70 264.80C610.28 267.10 610.85 269.77 611.30 269.10C611.75 268.43 610.78 259.68 612.40 260.80C614.02 261.92 618.13 272.80 621.00 275.80C623.87 278.80 626.73 277.98 629.60 278.80C632.47 279.62 635.33 280.87 638.20 280.70C641.07 280.53 643.93 279.92 646.80 277.80C649.67 275.68 652.53 270.60 655.40 268.00C658.27 265.40 661.13 262.52 664.00 262.20C666.87 261.88 671.17 265.45 672.60 266.10" fill="none" stroke="#8000ff" stroke-width="1.8"/>
<circle cx="500.6" cy="169.3" r="4" fill="#8000ff"/>
<circle cx="509.2" cy="169.3" r="4" fill="#8000ff"/>
<circle cx="517.8" cy="169.3" r="4" fill="#8000ff"/>
<circle cx="526.4" cy="169.5" r="4" fill="#8000ff"/>
<circle cx="535.0" cy="170.0" r="4" fill="#8000ff"/>
<circle cx="543.6" cy="170.4" r="4" fill="#8000ff"/>
<circle cx="552.2" cy="172.1" r="4" fill="#8000ff"/>
<circle cx="560.8" cy="175.9" r="4" fill="#8000ff"/>
<circle cx="569.4" cy="182.6" r="4" fill="#8000ff"/>
<circle cx="578.0" cy="197.6" r="4" fill="#8000ff"/>
<circle cx="586.6" cy="245.3" r="4" fill="#8000ff"/>
<circle cx="595.2" cy="228.0" r="4" fill="#8000ff"/>
<circle cx="603.8" cy="247.4" r="4" fill="#8000ff"/>
<circle cx="612.4" cy="260.8" r="4" fill="#8000ff"/>
<circle cx="621.0" cy="275.8" r="4" fill="#8000ff"/>
<circle cx="629.6" cy="278.8" r="4" fill="#8000ff"/>
<circle cx="638.2" cy="280.7" r="4" fill="#8000ff"/>
<circle cx="646.8" cy="277.8" r="4" fill="#8000ff"/>
<circle cx="655.4" cy="268.0" r="4" fill="#8000ff"/>
<circle cx="664.0" cy="262.2" r="4" fill="#8000ff"/>
<circle cx="672.6" cy="266.1" r="4" fill="#8000ff"/>
<path d="M500.60 169.50C502.03 169.50 506.33 169.50 509.20 169.50C512.07 169.50 514.93 169.47 517.80 169.50C520.67 169.53 523.53 169.58 526.40 169.70C529.27 169.82 532.13 169.98 535.00 170.20C537.87 170.42 540.73 170.65 543.60 171.00C546.47 171.35 549.33 171.63 552.20 172.30C555.07 172.97 557.93 173.72 560.80 175.00C563.67 176.28 566.53 177.08 569.40 180.00C572.27 182.92 576.17 189.83 578.00 192.50C579.83 195.17 579.45 193.00 580.40 196.00C581.35 199.00 582.67 205.25 583.70 210.50C584.73 215.75 584.68 224.82 586.60 227.50C588.52 230.18 592.33 222.18 595.20 226.60C598.07 231.02 600.93 247.43 603.80 254.00C606.67 260.57 609.53 262.87 612.40 266.00C615.27 269.13 618.13 270.30 621.00 272.80C623.87 275.30 626.73 278.63 629.60 281.00C632.47 283.37 635.33 286.17 638.20 287.00C641.07 287.83 643.93 288.67 646.80 286.00C649.67 283.33 652.53 275.83 655.40 271.00C658.27 266.17 661.13 257.83 664.00 257.00C666.87 256.17 671.17 264.50 672.60 266.00" fill="none" stroke="#ffa07a" stroke-width="1.8"/>
<path d="M496.4 167.2L504.8 167.2L500.6 174.2Z" fill="#ffa07a"/>
<path d="M505.0 167.2L513.4 167.2L509.2 174.2Z" fill="#ffa07a"/>
<path d="M513.6 167.2L522.0 167.2L517.8 174.2Z" fill="#ffa07a"/>
<path d="M522.2 167.4L530.6 167.4L526.4 174.4Z" fill="#ffa07a"/>
<path d="M530.8 167.9L539.2 167.9L535.0 174.9Z" fill="#ffa07a"/>
<path d="M539.4 168.7L547.8 168.7L543.6 175.7Z" fill="#ffa07a"/>
<path d="M548.0 170.0L556.4 170.0L552.2 177.0Z" fill="#ffa07a"/>
<path d="M556.6 172.7L565.0 172.7L560.8 179.7Z" fill="#ffa07a"/>
<path d="M565.2 177.7L573.6 177.7L569.4 184.7Z" fill="#ffa07a"/>
<path d="M573.8 190.2L582.2 190.2L578.0 197.2Z" fill="#ffa07a"/>
<path d="M582.4 225.2L590.8 225.2L586.6 232.2Z" fill="#ffa07a"/>
<path d="M591.0 224.3L599.4 224.3L595.2 231.3Z" fill="#ffa07a"/>
<path d="M599.6 251.7L608.0 251.7L603.8 258.7Z" fill="#ffa07a"/>
<path d="M608.2 263.7L616.6 263.7L612.4 270.7Z" fill="#ffa07a"/>
<path d="M616.8 270.5L625.2 270.5L621.0 277.5Z" fill="#ffa07a"/>
<path d="M625.4 278.7L633.8 278.7L629.6 285.7Z" fill="#ffa07a"/>
<path d="M634.0 284.7L642.4 284.7L638.2 291.7Z" fill="#ffa07a"/>
<path d="M642.6 283.7L651.0 283.7L646.8 290.7Z" fill="#ffa07a"/>
<path d="M651.2 268.7L659.6 268.7L655.4 275.7Z" fill="#ffa07a"/>
<path d="M659.8 254.7L668.2 254.7L664.0 261.7Z" fill="#ffa07a"/>
<path d="M668.4 263.7L676.8 263.7L672.6 270.7Z" fill="#ffa07a"/>
<path d="M492.60 169.20C498.83 169.20 520.97 168.92 530.00 169.20C539.03 169.48 542.62 170.20 546.80 170.90C550.98 171.60 552.32 172.28 555.10 173.40C557.88 174.52 560.70 175.78 563.50 177.60C566.30 179.42 569.67 182.07 571.90 184.30C574.13 186.53 575.68 188.97 576.90 191.00C578.12 193.03 578.27 193.17 579.20 196.50C580.13 199.83 581.38 205.67 582.50 211.00C583.62 216.33 584.92 223.35 585.90 228.50C586.88 233.65 587.70 238.83 588.40 241.90C589.10 244.97 589.53 246.90 590.10 246.90C590.67 246.90 591.25 244.40 591.80 241.90C592.35 239.40 592.80 234.40 593.40 231.90C594.00 229.40 594.43 225.82 595.40 226.90C596.37 227.98 598.05 233.92 599.20 238.40C600.35 242.88 601.53 250.28 602.30 253.80C603.07 257.32 603.30 259.63 603.80 259.50C604.30 259.37 604.78 254.98 605.30 253.00C605.82 251.02 606.32 247.27 606.90 247.60C607.48 247.93 608.17 252.18 608.80 255.00C609.43 257.82 610.12 262.20 610.70 264.50C611.28 266.80 611.65 269.30 612.30 268.80C612.95 268.30 613.90 261.97 614.60 261.50C615.30 261.03 615.87 264.47 616.50 266.00C617.13 267.53 617.43 269.40 618.40 270.70C619.37 272.00 620.48 272.13 622.30 273.80C624.12 275.47 626.83 278.40 629.30 280.70C631.77 283.00 634.82 286.38 637.10 287.60C639.38 288.82 641.05 288.33 643.00 288.00C644.95 287.67 647.02 287.30 648.80 285.60C650.58 283.90 652.23 280.73 653.70 277.80C655.17 274.87 656.45 271.27 657.60 268.00C658.75 264.73 659.78 260.15 660.60 258.20C661.42 256.25 661.68 255.97 662.50 256.30C663.32 256.63 664.35 258.57 665.50 260.20C666.65 261.83 667.93 264.63 669.40 266.10C670.87 267.57 672.93 268.68 674.30 269.00C675.67 269.32 677.05 268.17 677.60 268.00" fill="none" stroke="#ff00ff" stroke-width="1.8" stroke-linejoin="round"/>
</g>
<line x1="602.6" y1="182.3" x2="620.2" y2="182.3" stroke="#ff00ff" stroke-width="2"/>
<line x1="602.8" y1="202.2" x2="620.0" y2="202.2" stroke="#ffa07a" stroke-width="1.6"/>
<path d="M598.6 199.9L607.0 199.9L602.8 206.9Z" fill="#ffa07a"/>
<path d="M615.8 199.9L624.2 199.9L620.0 206.9Z" fill="#ffa07a"/>
<line x1="602.8" y1="220.8" x2="620.0" y2="220.8" stroke="#8000ff" stroke-width="1.6"/>
<circle cx="602.8" cy="220.8" r="4" fill="#8000ff"/>
<circle cx="620.0" cy="220.8" r="4" fill="#8000ff"/>
<text transform="translate(629.01,184.00) scale(0.97,1)" font-size="17.8" fill="#000" >V</text>
<text transform="translate(642.21,191.40) scale(1.1,1)" font-size="14.2" fill="#000" >α</text>
<text transform="translate(628.70,209.00) scale(0.97,1)" font-size="17.8" fill="#000" >DPD</text>
<text transform="translate(628.70,226.70) scale(0.97,1)" font-size="17.8" fill="#000" >MD</text>
<path d="M66.60 12.00L66.60 23.00M66.60 157.00L66.60 146.00M84.51 12.00L84.51 17.50M84.51 157.00L84.51 151.50M94.99 12.00L94.99 17.50M94.99 157.00L94.99 151.50M102.42 12.00L102.42 17.50M102.42 157.00L102.42 151.50M108.19 12.00L108.19 17.50M108.19 157.00L108.19 151.50M112.90 12.00L112.90 17.50M112.90 157.00L112.90 151.50M116.88 12.00L116.88 17.50M116.88 157.00L116.88 151.50M120.33 12.00L120.33 17.50M120.33 157.00L120.33 151.50M123.38 12.00L123.38 17.50M123.38 157.00L123.38 151.50M126.10 12.00L126.10 23.00M126.10 157.00L126.10 146.00M144.01 12.00L144.01 17.50M144.01 157.00L144.01 151.50M154.49 12.00L154.49 17.50M154.49 157.00L154.49 151.50M161.92 12.00L161.92 17.50M161.92 157.00L161.92 151.50M167.69 12.00L167.69 17.50M167.69 157.00L167.69 151.50M172.40 12.00L172.40 17.50M172.40 157.00L172.40 151.50M176.38 12.00L176.38 17.50M176.38 157.00L176.38 151.50M179.83 12.00L179.83 17.50M179.83 157.00L179.83 151.50M182.88 12.00L182.88 17.50M182.88 157.00L182.88 151.50M185.60 12.00L185.60 23.00M185.60 157.00L185.60 146.00M203.51 12.00L203.51 17.50M203.51 157.00L203.51 151.50M213.99 12.00L213.99 17.50M213.99 157.00L213.99 151.50M221.42 12.00L221.42 17.50M221.42 157.00L221.42 151.50M227.19 12.00L227.19 17.50M227.19 157.00L227.19 151.50M231.90 12.00L231.90 17.50M231.90 157.00L231.90 151.50M235.88 12.00L235.88 17.50M235.88 157.00L235.88 151.50M239.33 12.00L239.33 17.50M239.33 157.00L239.33 151.50M242.38 12.00L242.38 17.50M242.38 157.00L242.38 151.50M245.10 12.00L245.10 23.00M245.10 157.00L245.10 146.00M66.50 156.72L72.00 156.72M251.50 156.72L246.00 156.72M66.50 154.18L72.00 154.18M251.50 154.18L246.00 154.18M66.50 152.11L72.00 152.11M251.50 152.11L246.00 152.11M66.50 150.36L72.00 150.36M251.50 150.36L246.00 150.36M66.50 148.84L72.00 148.84M251.50 148.84L246.00 148.84M66.50 147.50L72.00 147.50M251.50 147.50L246.00 147.50M66.50 146.30L77.50 146.30M251.50 146.30L240.50 146.30M66.50 138.42L72.00 138.42M251.50 138.42L246.00 138.42M66.50 133.81L72.00 133.81M251.50 133.81L246.00 133.81M66.50 130.54L72.00 130.54M251.50 130.54L246.00 130.54M66.50 128.00L72.00 128.00M251.50 128.00L246.00 128.00M66.50 125.93L72.00 125.93M251.50 125.93L246.00 125.93M66.50 124.18L72.00 124.18M251.50 124.18L246.00 124.18M66.50 122.66L72.00 122.66M251.50 122.66L246.00 122.66M66.50 121.32L72.00 121.32M251.50 121.32L246.00 121.32M66.50 120.12L77.50 120.12M251.50 120.12L240.50 120.12M66.50 112.24L72.00 112.24M251.50 112.24L246.00 112.24M66.50 107.63L72.00 107.63M251.50 107.63L246.00 107.63M66.50 104.36L72.00 104.36M251.50 104.36L246.00 104.36M66.50 101.82L72.00 101.82M251.50 101.82L246.00 101.82M66.50 99.75L72.00 99.75M251.50 99.75L246.00 99.75M66.50 98.00L72.00 98.00M251.50 98.00L246.00 98.00M66.50 96.48L72.00 96.48M251.50 96.48L246.00 96.48M66.50 95.14L72.00 95.14M251.50 95.14L246.00 95.14M66.50 93.94L77.50 93.94M251.50 93.94L240.50 93.94M66.50 86.06L72.00 86.06M251.50 86.06L246.00 86.06M66.50 81.45L72.00 81.45M251.50 81.45L246.00 81.45M66.50 78.18L72.00 78.18M251.50 78.18L246.00 78.18M66.50 75.64L72.00 75.64M251.50 75.64L246.00 75.64M66.50 73.57L72.00 73.57M251.50 73.57L246.00 73.57M66.50 71.82L72.00 71.82M251.50 71.82L246.00 71.82M66.50 70.30L72.00 70.30M251.50 70.30L246.00 70.30M66.50 68.96L72.00 68.96M251.50 68.96L246.00 68.96M66.50 67.76L77.50 67.76M251.50 67.76L240.50 67.76M66.50 59.88L72.00 59.88M251.50 59.88L246.00 59.88M66.50 55.27L72.00 55.27M251.50 55.27L246.00 55.27M66.50 52.00L72.00 52.00M251.50 52.00L246.00 52.00M66.50 49.46L72.00 49.46M251.50 49.46L246.00 49.46M66.50 47.39L72.00 47.39M251.50 47.39L246.00 47.39M66.50 45.64L72.00 45.64M251.50 45.64L246.00 45.64M66.50 44.12L72.00 44.12M251.50 44.12L246.00 44.12M66.50 42.78L72.00 42.78M251.50 42.78L246.00 42.78M66.50 41.58L77.50 41.58M251.50 41.58L240.50 41.58M66.50 33.70L72.00 33.70M251.50 33.70L246.00 33.70M66.50 29.09L72.00 29.09M251.50 29.09L246.00 29.09M66.50 25.82L72.00 25.82M251.50 25.82L246.00 25.82M66.50 23.28L72.00 23.28M251.50 23.28L246.00 23.28M66.50 21.21L72.00 21.21M251.50 21.21L246.00 21.21M66.50 19.46L72.00 19.46M251.50 19.46L246.00 19.46M66.50 17.94L72.00 17.94M251.50 17.94L246.00 17.94M66.50 16.60L72.00 16.60M251.50 16.60L246.00 16.60M66.50 15.40L77.50 15.40M251.50 15.40L240.50 15.40" stroke="#000" stroke-width="1.0" fill="none"/>
<rect x="66.50" y="12.00" width="185.00" height="145.00" fill="none" stroke="#000" stroke-width="1.0"/>
<path d="M66.60 157.00L66.60 168.00M66.60 302.00L66.60 291.00M84.51 157.00L84.51 162.50M84.51 302.00L84.51 296.50M94.99 157.00L94.99 162.50M94.99 302.00L94.99 296.50M102.42 157.00L102.42 162.50M102.42 302.00L102.42 296.50M108.19 157.00L108.19 162.50M108.19 302.00L108.19 296.50M112.90 157.00L112.90 162.50M112.90 302.00L112.90 296.50M116.88 157.00L116.88 162.50M116.88 302.00L116.88 296.50M120.33 157.00L120.33 162.50M120.33 302.00L120.33 296.50M123.38 157.00L123.38 162.50M123.38 302.00L123.38 296.50M126.10 157.00L126.10 168.00M126.10 302.00L126.10 291.00M144.01 157.00L144.01 162.50M144.01 302.00L144.01 296.50M154.49 157.00L154.49 162.50M154.49 302.00L154.49 296.50M161.92 157.00L161.92 162.50M161.92 302.00L161.92 296.50M167.69 157.00L167.69 162.50M167.69 302.00L167.69 296.50M172.40 157.00L172.40 162.50M172.40 302.00L172.40 296.50M176.38 157.00L176.38 162.50M176.38 302.00L176.38 296.50M179.83 157.00L179.83 162.50M179.83 302.00L179.83 296.50M182.88 157.00L182.88 162.50M182.88 302.00L182.88 296.50M185.60 157.00L185.60 168.00M185.60 302.00L185.60 291.00M203.51 157.00L203.51 162.50M203.51 302.00L203.51 296.50M213.99 157.00L213.99 162.50M213.99 302.00L213.99 296.50M221.42 157.00L221.42 162.50M221.42 302.00L221.42 296.50M227.19 157.00L227.19 162.50M227.19 302.00L227.19 296.50M231.90 157.00L231.90 162.50M231.90 302.00L231.90 296.50M235.88 157.00L235.88 162.50M235.88 302.00L235.88 296.50M239.33 157.00L239.33 162.50M239.33 302.00L239.33 296.50M242.38 157.00L242.38 162.50M242.38 302.00L242.38 296.50M245.10 157.00L245.10 168.00M245.10 302.00L245.10 291.00M66.50 301.72L72.00 301.72M251.50 301.72L246.00 301.72M66.50 299.18L72.00 299.18M251.50 299.18L246.00 299.18M66.50 297.11L72.00 297.11M251.50 297.11L246.00 297.11M66.50 295.36L72.00 295.36M251.50 295.36L246.00 295.36M66.50 293.84L72.00 293.84M251.50 293.84L246.00 293.84M66.50 292.50L72.00 292.50M251.50 292.50L246.00 292.50M66.50 291.30L77.50 291.30M251.50 291.30L240.50 291.30M66.50 283.42L72.00 283.42M251.50 283.42L246.00 283.42M66.50 278.81L72.00 278.81M251.50 278.81L246.00 278.81M66.50 275.54L72.00 275.54M251.50 275.54L246.00 275.54M66.50 273.00L72.00 273.00M251.50 273.00L246.00 273.00M66.50 270.93L72.00 270.93M251.50 270.93L246.00 270.93M66.50 269.18L72.00 269.18M251.50 269.18L246.00 269.18M66.50 267.66L72.00 267.66M251.50 267.66L246.00 267.66M66.50 266.32L72.00 266.32M251.50 266.32L246.00 266.32M66.50 265.12L77.50 265.12M251.50 265.12L240.50 265.12M66.50 257.24L72.00 257.24M251.50 257.24L246.00 257.24M66.50 252.63L72.00 252.63M251.50 252.63L246.00 252.63M66.50 249.36L72.00 249.36M251.50 249.36L246.00 249.36M66.50 246.82L72.00 246.82M251.50 246.82L246.00 246.82M66.50 244.75L72.00 244.75M251.50 244.75L246.00 244.75M66.50 243.00L72.00 243.00M251.50 243.00L246.00 243.00M66.50 241.48L72.00 241.48M251.50 241.48L246.00 241.48M66.50 240.14L72.00 240.14M251.50 240.14L246.00 240.14M66.50 238.94L77.50 238.94M251.50 238.94L240.50 238.94M66.50 231.06L72.00 231.06M251.50 231.06L246.00 231.06M66.50 226.45L72.00 226.45M251.50 226.45L246.00 226.45M66.50 223.18L72.00 223.18M251.50 223.18L246.00 223.18M66.50 220.64L72.00 220.64M251.50 220.64L246.00 220.64M66.50 218.57L72.00 218.57M251.50 218.57L246.00 218.57M66.50 216.82L72.00 216.82M251.50 216.82L246.00 216.82M66.50 215.30L72.00 215.30M251.50 215.30L246.00 215.30M66.50 213.96L72.00 213.96M251.50 213.96L246.00 213.96M66.50 212.76L77.50 212.76M251.50 212.76L240.50 212.76M66.50 204.88L72.00 204.88M251.50 204.88L246.00 204.88M66.50 200.27L72.00 200.27M251.50 200.27L246.00 200.27M66.50 197.00L72.00 197.00M251.50 197.00L246.00 197.00M66.50 194.46L72.00 194.46M251.50 194.46L246.00 194.46M66.50 192.39L72.00 192.39M251.50 192.39L246.00 192.39M66.50 190.64L72.00 190.64M251.50 190.64L246.00 190.64M66.50 189.12L72.00 189.12M251.50 189.12L246.00 189.12M66.50 187.78L72.00 187.78M251.50 187.78L246.00 187.78M66.50 186.58L77.50 186.58M251.50 186.58L240.50 186.58M66.50 178.70L72.00 178.70M251.50 178.70L246.00 178.70M66.50 174.09L72.00 174.09M251.50 174.09L246.00 174.09M66.50 170.82L72.00 170.82M251.50 170.82L246.00 170.82M66.50 168.28L72.00 168.28M251.50 168.28L246.00 168.28M66.50 166.21L72.00 166.21M251.50 166.21L246.00 166.21M66.50 164.46L72.00 164.46M251.50 164.46L246.00 164.46M66.50 162.94L72.00 162.94M251.50 162.94L246.00 162.94M66.50 161.60L72.00 161.60M251.50 161.60L246.00 161.60M66.50 160.40L77.50 160.40M251.50 160.40L240.50 160.40" stroke="#000" stroke-width="1.0" fill="none"/>
<rect x="66.50" y="157.00" width="185.00" height="145.00" fill="none" stroke="#000" stroke-width="1.0"/>
<path d="M279.60 12.00L279.60 23.00M279.60 157.00L279.60 146.00M297.51 12.00L297.51 17.50M297.51 157.00L297.51 151.50M307.99 12.00L307.99 17.50M307.99 157.00L307.99 151.50M315.42 12.00L315.42 17.50M315.42 157.00L315.42 151.50M321.19 12.00L321.19 17.50M321.19 157.00L321.19 151.50M325.90 12.00L325.90 17.50M325.90 157.00L325.90 151.50M329.88 12.00L329.88 17.50M329.88 157.00L329.88 151.50M333.33 12.00L333.33 17.50M333.33 157.00L333.33 151.50M336.38 12.00L336.38 17.50M336.38 157.00L336.38 151.50M339.10 12.00L339.10 23.00M339.10 157.00L339.10 146.00M357.01 12.00L357.01 17.50M357.01 157.00L357.01 151.50M367.49 12.00L367.49 17.50M367.49 157.00L367.49 151.50M374.92 12.00L374.92 17.50M374.92 157.00L374.92 151.50M380.69 12.00L380.69 17.50M380.69 157.00L380.69 151.50M385.40 12.00L385.40 17.50M385.40 157.00L385.40 151.50M389.38 12.00L389.38 17.50M389.38 157.00L389.38 151.50M392.83 12.00L392.83 17.50M392.83 157.00L392.83 151.50M395.88 12.00L395.88 17.50M395.88 157.00L395.88 151.50M398.60 12.00L398.60 23.00M398.60 157.00L398.60 146.00M416.51 12.00L416.51 17.50M416.51 157.00L416.51 151.50M426.99 12.00L426.99 17.50M426.99 157.00L426.99 151.50M434.42 12.00L434.42 17.50M434.42 157.00L434.42 151.50M440.19 12.00L440.19 17.50M440.19 157.00L440.19 151.50M444.90 12.00L444.90 17.50M444.90 157.00L444.90 151.50M448.88 12.00L448.88 17.50M448.88 157.00L448.88 151.50M452.33 12.00L452.33 17.50M452.33 157.00L452.33 151.50M455.38 12.00L455.38 17.50M455.38 157.00L455.38 151.50M458.10 12.00L458.10 23.00M458.10 157.00L458.10 146.00M279.50 156.72L285.00 156.72M464.50 156.72L459.00 156.72M279.50 154.18L285.00 154.18M464.50 154.18L459.00 154.18M279.50 152.11L285.00 152.11M464.50 152.11L459.00 152.11M279.50 150.36L285.00 150.36M464.50 150.36L459.00 150.36M279.50 148.84L285.00 148.84M464.50 148.84L459.00 148.84M279.50 147.50L285.00 147.50M464.50 147.50L459.00 147.50M279.50 146.30L290.50 146.30M464.50 146.30L453.50 146.30M279.50 138.42L285.00 138.42M464.50 138.42L459.00 138.42M279.50 133.81L285.00 133.81M464.50 133.81L459.00 133.81M279.50 130.54L285.00 130.54M464.50 130.54L459.00 130.54M279.50 128.00L285.00 128.00M464.50 128.00L459.00 128.00M279.50 125.93L285.00 125.93M464.50 125.93L459.00 125.93M279.50 124.18L285.00 124.18M464.50 124.18L459.00 124.18M279.50 122.66L285.00 122.66M464.50 122.66L459.00 122.66M279.50 121.32L285.00 121.32M464.50 121.32L459.00 121.32M279.50 120.12L290.50 120.12M464.50 120.12L453.50 120.12M279.50 112.24L285.00 112.24M464.50 112.24L459.00 112.24M279.50 107.63L285.00 107.63M464.50 107.63L459.00 107.63M279.50 104.36L285.00 104.36M464.50 104.36L459.00 104.36M279.50 101.82L285.00 101.82M464.50 101.82L459.00 101.82M279.50 99.75L285.00 99.75M464.50 99.75L459.00 99.75M279.50 98.00L285.00 98.00M464.50 98.00L459.00 98.00M279.50 96.48L285.00 96.48M464.50 96.48L459.00 96.48M279.50 95.14L285.00 95.14M464.50 95.14L459.00 95.14M279.50 93.94L290.50 93.94M464.50 93.94L453.50 93.94M279.50 86.06L285.00 86.06M464.50 86.06L459.00 86.06M279.50 81.45L285.00 81.45M464.50 81.45L459.00 81.45M279.50 78.18L285.00 78.18M464.50 78.18L459.00 78.18M279.50 75.64L285.00 75.64M464.50 75.64L459.00 75.64M279.50 73.57L285.00 73.57M464.50 73.57L459.00 73.57M279.50 71.82L285.00 71.82M464.50 71.82L459.00 71.82M279.50 70.30L285.00 70.30M464.50 70.30L459.00 70.30M279.50 68.96L285.00 68.96M464.50 68.96L459.00 68.96M279.50 67.76L290.50 67.76M464.50 67.76L453.50 67.76M279.50 59.88L285.00 59.88M464.50 59.88L459.00 59.88M279.50 55.27L285.00 55.27M464.50 55.27L459.00 55.27M279.50 52.00L285.00 52.00M464.50 52.00L459.00 52.00M279.50 49.46L285.00 49.46M464.50 49.46L459.00 49.46M279.50 47.39L285.00 47.39M464.50 47.39L459.00 47.39M279.50 45.64L285.00 45.64M464.50 45.64L459.00 45.64M279.50 44.12L285.00 44.12M464.50 44.12L459.00 44.12M279.50 42.78L285.00 42.78M464.50 42.78L459.00 42.78M279.50 41.58L290.50 41.58M464.50 41.58L453.50 41.58M279.50 33.70L285.00 33.70M464.50 33.70L459.00 33.70M279.50 29.09L285.00 29.09M464.50 29.09L459.00 29.09M279.50 25.82L285.00 25.82M464.50 25.82L459.00 25.82M279.50 23.28L285.00 23.28M464.50 23.28L459.00 23.28M279.50 21.21L285.00 21.21M464.50 21.21L459.00 21.21M279.50 19.46L285.00 19.46M464.50 19.46L459.00 19.46M279.50 17.94L285.00 17.94M464.50 17.94L459.00 17.94M279.50 16.60L285.00 16.60M464.50 16.60L459.00 16.60M279.50 15.40L290.50 15.40M464.50 15.40L453.50 15.40" stroke="#000" stroke-width="1.0" fill="none"/>
<rect x="279.50" y="12.00" width="185.00" height="145.00" fill="none" stroke="#000" stroke-width="1.0"/>
<path d="M279.60 157.00L279.60 168.00M279.60 302.00L279.60 291.00M297.51 157.00L297.51 162.50M297.51 302.00L297.51 296.50M307.99 157.00L307.99 162.50M307.99 302.00L307.99 296.50M315.42 157.00L315.42 162.50M315.42 302.00L315.42 296.50M321.19 157.00L321.19 162.50M321.19 302.00L321.19 296.50M325.90 157.00L325.90 162.50M325.90 302.00L325.90 296.50M329.88 157.00L329.88 162.50M329.88 302.00L329.88 296.50M333.33 157.00L333.33 162.50M333.33 302.00L333.33 296.50M336.38 157.00L336.38 162.50M336.38 302.00L336.38 296.50M339.10 157.00L339.10 168.00M339.10 302.00L339.10 291.00M357.01 157.00L357.01 162.50M357.01 302.00L357.01 296.50M367.49 157.00L367.49 162.50M367.49 302.00L367.49 296.50M374.92 157.00L374.92 162.50M374.92 302.00L374.92 296.50M380.69 157.00L380.69 162.50M380.69 302.00L380.69 296.50M385.40 157.00L385.40 162.50M385.40 302.00L385.40 296.50M389.38 157.00L389.38 162.50M389.38 302.00L389.38 296.50M392.83 157.00L392.83 162.50M392.83 302.00L392.83 296.50M395.88 157.00L395.88 162.50M395.88 302.00L395.88 296.50M398.60 157.00L398.60 168.00M398.60 302.00L398.60 291.00M416.51 157.00L416.51 162.50M416.51 302.00L416.51 296.50M426.99 157.00L426.99 162.50M426.99 302.00L426.99 296.50M434.42 157.00L434.42 162.50M434.42 302.00L434.42 296.50M440.19 157.00L440.19 162.50M440.19 302.00L440.19 296.50M444.90 157.00L444.90 162.50M444.90 302.00L444.90 296.50M448.88 157.00L448.88 162.50M448.88 302.00L448.88 296.50M452.33 157.00L452.33 162.50M452.33 302.00L452.33 296.50M455.38 157.00L455.38 162.50M455.38 302.00L455.38 296.50M458.10 157.00L458.10 168.00M458.10 302.00L458.10 291.00M279.50 301.72L285.00 301.72M464.50 301.72L459.00 301.72M279.50 299.18L285.00 299.18M464.50 299.18L459.00 299.18M279.50 297.11L285.00 297.11M464.50 297.11L459.00 297.11M279.50 295.36L285.00 295.36M464.50 295.36L459.00 295.36M279.50 293.84L285.00 293.84M464.50 293.84L459.00 293.84M279.50 292.50L285.00 292.50M464.50 292.50L459.00 292.50M279.50 291.30L290.50 291.30M464.50 291.30L453.50 291.30M279.50 283.42L285.00 283.42M464.50 283.42L459.00 283.42M279.50 278.81L285.00 278.81M464.50 278.81L459.00 278.81M279.50 275.54L285.00 275.54M464.50 275.54L459.00 275.54M279.50 273.00L285.00 273.00M464.50 273.00L459.00 273.00M279.50 270.93L285.00 270.93M464.50 270.93L459.00 270.93M279.50 269.18L285.00 269.18M464.50 269.18L459.00 269.18M279.50 267.66L285.00 267.66M464.50 267.66L459.00 267.66M279.50 266.32L285.00 266.32M464.50 266.32L459.00 266.32M279.50 265.12L290.50 265.12M464.50 265.12L453.50 265.12M279.50 257.24L285.00 257.24M464.50 257.24L459.00 257.24M279.50 252.63L285.00 252.63M464.50 252.63L459.00 252.63M279.50 249.36L285.00 249.36M464.50 249.36L459.00 249.36M279.50 246.82L285.00 246.82M464.50 246.82L459.00 246.82M279.50 244.75L285.00 244.75M464.50 244.75L459.00 244.75M279.50 243.00L285.00 243.00M464.50 243.00L459.00 243.00M279.50 241.48L285.00 241.48M464.50 241.48L459.00 241.48M279.50 240.14L285.00 240.14M464.50 240.14L459.00 240.14M279.50 238.94L290.50 238.94M464.50 238.94L453.50 238.94M279.50 231.06L285.00 231.06M464.50 231.06L459.00 231.06M279.50 226.45L285.00 226.45M464.50 226.45L459.00 226.45M279.50 223.18L285.00 223.18M464.50 223.18L459.00 223.18M279.50 220.64L285.00 220.64M464.50 220.64L459.00 220.64M279.50 218.57L285.00 218.57M464.50 218.57L459.00 218.57M279.50 216.82L285.00 216.82M464.50 216.82L459.00 216.82M279.50 215.30L285.00 215.30M464.50 215.30L459.00 215.30M279.50 213.96L285.00 213.96M464.50 213.96L459.00 213.96M279.50 212.76L290.50 212.76M464.50 212.76L453.50 212.76M279.50 204.88L285.00 204.88M464.50 204.88L459.00 204.88M279.50 200.27L285.00 200.27M464.50 200.27L459.00 200.27M279.50 197.00L285.00 197.00M464.50 197.00L459.00 197.00M279.50 194.46L285.00 194.46M464.50 194.46L459.00 194.46M279.50 192.39L285.00 192.39M464.50 192.39L459.00 192.39M279.50 190.64L285.00 190.64M464.50 190.64L459.00 190.64M279.50 189.12L285.00 189.12M464.50 189.12L459.00 189.12M279.50 187.78L285.00 187.78M464.50 187.78L459.00 187.78M279.50 186.58L290.50 186.58M464.50 186.58L453.50 186.58M279.50 178.70L285.00 178.70M464.50 178.70L459.00 178.70M279.50 174.09L285.00 174.09M464.50 174.09L459.00 174.09M279.50 170.82L285.00 170.82M464.50 170.82L459.00 170.82M279.50 168.28L285.00 168.28M464.50 168.28L459.00 168.28M279.50 166.21L285.00 166.21M464.50 166.21L459.00 166.21M279.50 164.46L285.00 164.46M464.50 164.46L459.00 164.46M279.50 162.94L285.00 162.94M464.50 162.94L459.00 162.94M279.50 161.60L285.00 161.60M464.50 161.60L459.00 161.60M279.50 160.40L290.50 160.40M464.50 160.40L453.50 160.40" stroke="#000" stroke-width="1.0" fill="none"/>
<rect x="279.50" y="157.00" width="185.00" height="145.00" fill="none" stroke="#000" stroke-width="1.0"/>
<path d="M492.60 12.00L492.60 23.00M492.60 157.00L492.60 146.00M510.51 12.00L510.51 17.50M510.51 157.00L510.51 151.50M520.99 12.00L520.99 17.50M520.99 157.00L520.99 151.50M528.42 12.00L528.42 17.50M528.42 157.00L528.42 151.50M534.19 12.00L534.19 17.50M534.19 157.00L534.19 151.50M538.90 12.00L538.90 17.50M538.90 157.00L538.90 151.50M542.88 12.00L542.88 17.50M542.88 157.00L542.88 151.50M546.33 12.00L546.33 17.50M546.33 157.00L546.33 151.50M549.38 12.00L549.38 17.50M549.38 157.00L549.38 151.50M552.10 12.00L552.10 23.00M552.10 157.00L552.10 146.00M570.01 12.00L570.01 17.50M570.01 157.00L570.01 151.50M580.49 12.00L580.49 17.50M580.49 157.00L580.49 151.50M587.92 12.00L587.92 17.50M587.92 157.00L587.92 151.50M593.69 12.00L593.69 17.50M593.69 157.00L593.69 151.50M598.40 12.00L598.40 17.50M598.40 157.00L598.40 151.50M602.38 12.00L602.38 17.50M602.38 157.00L602.38 151.50M605.83 12.00L605.83 17.50M605.83 157.00L605.83 151.50M608.88 12.00L608.88 17.50M608.88 157.00L608.88 151.50M611.60 12.00L611.60 23.00M611.60 157.00L611.60 146.00M629.51 12.00L629.51 17.50M629.51 157.00L629.51 151.50M639.99 12.00L639.99 17.50M639.99 157.00L639.99 151.50M647.42 12.00L647.42 17.50M647.42 157.00L647.42 151.50M653.19 12.00L653.19 17.50M653.19 157.00L653.19 151.50M657.90 12.00L657.90 17.50M657.90 157.00L657.90 151.50M661.88 12.00L661.88 17.50M661.88 157.00L661.88 151.50M665.33 12.00L665.33 17.50M665.33 157.00L665.33 151.50M668.38 12.00L668.38 17.50M668.38 157.00L668.38 151.50M671.10 12.00L671.10 23.00M671.10 157.00L671.10 146.00M492.50 156.72L498.00 156.72M677.50 156.72L672.00 156.72M492.50 154.18L498.00 154.18M677.50 154.18L672.00 154.18M492.50 152.11L498.00 152.11M677.50 152.11L672.00 152.11M492.50 150.36L498.00 150.36M677.50 150.36L672.00 150.36M492.50 148.84L498.00 148.84M677.50 148.84L672.00 148.84M492.50 147.50L498.00 147.50M677.50 147.50L672.00 147.50M492.50 146.30L503.50 146.30M677.50 146.30L666.50 146.30M492.50 138.42L498.00 138.42M677.50 138.42L672.00 138.42M492.50 133.81L498.00 133.81M677.50 133.81L672.00 133.81M492.50 130.54L498.00 130.54M677.50 130.54L672.00 130.54M492.50 128.00L498.00 128.00M677.50 128.00L672.00 128.00M492.50 125.93L498.00 125.93M677.50 125.93L672.00 125.93M492.50 124.18L498.00 124.18M677.50 124.18L672.00 124.18M492.50 122.66L498.00 122.66M677.50 122.66L672.00 122.66M492.50 121.32L498.00 121.32M677.50 121.32L672.00 121.32M492.50 120.12L503.50 120.12M677.50 120.12L666.50 120.12M492.50 112.24L498.00 112.24M677.50 112.24L672.00 112.24M492.50 107.63L498.00 107.63M677.50 107.63L672.00 107.63M492.50 104.36L498.00 104.36M677.50 104.36L672.00 104.36M492.50 101.82L498.00 101.82M677.50 101.82L672.00 101.82M492.50 99.75L498.00 99.75M677.50 99.75L672.00 99.75M492.50 98.00L498.00 98.00M677.50 98.00L672.00 98.00M492.50 96.48L498.00 96.48M677.50 96.48L672.00 96.48M492.50 95.14L498.00 95.14M677.50 95.14L672.00 95.14M492.50 93.94L503.50 93.94M677.50 93.94L666.50 93.94M492.50 86.06L498.00 86.06M677.50 86.06L672.00 86.06M492.50 81.45L498.00 81.45M677.50 81.45L672.00 81.45M492.50 78.18L498.00 78.18M677.50 78.18L672.00 78.18M492.50 75.64L498.00 75.64M677.50 75.64L672.00 75.64M492.50 73.57L498.00 73.57M677.50 73.57L672.00 73.57M492.50 71.82L498.00 71.82M677.50 71.82L672.00 71.82M492.50 70.30L498.00 70.30M677.50 70.30L672.00 70.30M492.50 68.96L498.00 68.96M677.50 68.96L672.00 68.96M492.50 67.76L503.50 67.76M677.50 67.76L666.50 67.76M492.50 59.88L498.00 59.88M677.50 59.88L672.00 59.88M492.50 55.27L498.00 55.27M677.50 55.27L672.00 55.27M492.50 52.00L498.00 52.00M677.50 52.00L672.00 52.00M492.50 49.46L498.00 49.46M677.50 49.46L672.00 49.46M492.50 47.39L498.00 47.39M677.50 47.39L672.00 47.39M492.50 45.64L498.00 45.64M677.50 45.64L672.00 45.64M492.50 44.12L498.00 44.12M677.50 44.12L672.00 44.12M492.50 42.78L498.00 42.78M677.50 42.78L672.00 42.78M492.50 41.58L503.50 41.58M677.50 41.58L666.50 41.58M492.50 33.70L498.00 33.70M677.50 33.70L672.00 33.70M492.50 29.09L498.00 29.09M677.50 29.09L672.00 29.09M492.50 25.82L498.00 25.82M677.50 25.82L672.00 25.82M492.50 23.28L498.00 23.28M677.50 23.28L672.00 23.28M492.50 21.21L498.00 21.21M677.50 21.21L672.00 21.21M492.50 19.46L498.00 19.46M677.50 19.46L672.00 19.46M492.50 17.94L498.00 17.94M677.50 17.94L672.00 17.94M492.50 16.60L498.00 16.60M677.50 16.60L672.00 16.60M492.50 15.40L503.50 15.40M677.50 15.40L666.50 15.40" stroke="#000" stroke-width="1.0" fill="none"/>
<rect x="492.50" y="12.00" width="185.00" height="145.00" fill="none" stroke="#000" stroke-width="1.0"/>
<path d="M492.60 157.00L492.60 168.00M492.60 302.00L492.60 291.00M510.51 157.00L510.51 162.50M510.51 302.00L510.51 296.50M520.99 157.00L520.99 162.50M520.99 302.00L520.99 296.50M528.42 157.00L528.42 162.50M528.42 302.00L528.42 296.50M534.19 157.00L534.19 162.50M534.19 302.00L534.19 296.50M538.90 157.00L538.90 162.50M538.90 302.00L538.90 296.50M542.88 157.00L542.88 162.50M542.88 302.00L542.88 296.50M546.33 157.00L546.33 162.50M546.33 302.00L546.33 296.50M549.38 157.00L549.38 162.50M549.38 302.00L549.38 296.50M552.10 157.00L552.10 168.00M552.10 302.00L552.10 291.00M570.01 157.00L570.01 162.50M570.01 302.00L570.01 296.50M580.49 157.00L580.49 162.50M580.49 302.00L580.49 296.50M587.92 157.00L587.92 162.50M587.92 302.00L587.92 296.50M593.69 157.00L593.69 162.50M593.69 302.00L593.69 296.50M598.40 157.00L598.40 162.50M598.40 302.00L598.40 296.50M602.38 157.00L602.38 162.50M602.38 302.00L602.38 296.50M605.83 157.00L605.83 162.50M605.83 302.00L605.83 296.50M608.88 157.00L608.88 162.50M608.88 302.00L608.88 296.50M611.60 157.00L611.60 168.00M611.60 302.00L611.60 291.00M629.51 157.00L629.51 162.50M629.51 302.00L629.51 296.50M639.99 157.00L639.99 162.50M639.99 302.00L639.99 296.50M647.42 157.00L647.42 162.50M647.42 302.00L647.42 296.50M653.19 157.00L653.19 162.50M653.19 302.00L653.19 296.50M657.90 157.00L657.90 162.50M657.90 302.00L657.90 296.50M661.88 157.00L661.88 162.50M661.88 302.00L661.88 296.50M665.33 157.00L665.33 162.50M665.33 302.00L665.33 296.50M668.38 157.00L668.38 162.50M668.38 302.00L668.38 296.50M671.10 157.00L671.10 168.00M671.10 302.00L671.10 291.00M492.50 301.72L498.00 301.72M677.50 301.72L672.00 301.72M492.50 299.18L498.00 299.18M677.50 299.18L672.00 299.18M492.50 297.11L498.00 297.11M677.50 297.11L672.00 297.11M492.50 295.36L498.00 295.36M677.50 295.36L672.00 295.36M492.50 293.84L498.00 293.84M677.50 293.84L672.00 293.84M492.50 292.50L498.00 292.50M677.50 292.50L672.00 292.50M492.50 291.30L503.50 291.30M677.50 291.30L666.50 291.30M492.50 283.42L498.00 283.42M677.50 283.42L672.00 283.42M492.50 278.81L498.00 278.81M677.50 278.81L672.00 278.81M492.50 275.54L498.00 275.54M677.50 275.54L672.00 275.54M492.50 273.00L498.00 273.00M677.50 273.00L672.00 273.00M492.50 270.93L498.00 270.93M677.50 270.93L672.00 270.93M492.50 269.18L498.00 269.18M677.50 269.18L672.00 269.18M492.50 267.66L498.00 267.66M677.50 267.66L672.00 267.66M492.50 266.32L498.00 266.32M677.50 266.32L672.00 266.32M492.50 265.12L503.50 265.12M677.50 265.12L666.50 265.12M492.50 257.24L498.00 257.24M677.50 257.24L672.00 257.24M492.50 252.63L498.00 252.63M677.50 252.63L672.00 252.63M492.50 249.36L498.00 249.36M677.50 249.36L672.00 249.36M492.50 246.82L498.00 246.82M677.50 246.82L672.00 246.82M492.50 244.75L498.00 244.75M677.50 244.75L672.00 244.75M492.50 243.00L498.00 243.00M677.50 243.00L672.00 243.00M492.50 241.48L498.00 241.48M677.50 241.48L672.00 241.48M492.50 240.14L498.00 240.14M677.50 240.14L672.00 240.14M492.50 238.94L503.50 238.94M677.50 238.94L666.50 238.94M492.50 231.06L498.00 231.06M677.50 231.06L672.00 231.06M492.50 226.45L498.00 226.45M677.50 226.45L672.00 226.45M492.50 223.18L498.00 223.18M677.50 223.18L672.00 223.18M492.50 220.64L498.00 220.64M677.50 220.64L672.00 220.64M492.50 218.57L498.00 218.57M677.50 218.57L672.00 218.57M492.50 216.82L498.00 216.82M677.50 216.82L672.00 216.82M492.50 215.30L498.00 215.30M677.50 215.30L672.00 215.30M492.50 213.96L498.00 213.96M677.50 213.96L672.00 213.96M492.50 212.76L503.50 212.76M677.50 212.76L666.50 212.76M492.50 204.88L498.00 204.88M677.50 204.88L672.00 204.88M492.50 200.27L498.00 200.27M677.50 200.27L672.00 200.27M492.50 197.00L498.00 197.00M677.50 197.00L672.00 197.00M492.50 194.46L498.00 194.46M677.50 194.46L672.00 194.46M492.50 192.39L498.00 192.39M677.50 192.39L672.00 192.39M492.50 190.64L498.00 190.64M677.50 190.64L672.00 190.64M492.50 189.12L498.00 189.12M677.50 189.12L672.00 189.12M492.50 187.78L498.00 187.78M677.50 187.78L672.00 187.78M492.50 186.58L503.50 186.58M677.50 186.58L666.50 186.58M492.50 178.70L498.00 178.70M677.50 178.70L672.00 178.70M492.50 174.09L498.00 174.09M677.50 174.09L672.00 174.09M492.50 170.82L498.00 170.82M677.50 170.82L672.00 170.82M492.50 168.28L498.00 168.28M677.50 168.28L672.00 168.28M492.50 166.21L498.00 166.21M677.50 166.21L672.00 166.21M492.50 164.46L498.00 164.46M677.50 164.46L672.00 164.46M492.50 162.94L498.00 162.94M677.50 162.94L672.00 162.94M492.50 161.60L498.00 161.60M677.50 161.60L672.00 161.60M492.50 160.40L503.50 160.40M677.50 160.40L666.50 160.40" stroke="#000" stroke-width="1.0" fill="none"/>
<rect x="492.50" y="157.00" width="185.00" height="145.00" fill="none" stroke="#000" stroke-width="1.0"/>
<text transform="translate(31.74,24.00) scale(0.93,1)" font-size="24.0" fill="#000" >10</text>
<text transform="translate(54.11,11.20) scale(1.05,1)" font-size="14.0" fill="#000" >4</text>
<text transform="translate(31.94,50.20) scale(0.93,1)" font-size="24.0" fill="#000" >10</text>
<text transform="translate(54.30,37.40) scale(1.05,1)" font-size="14.0" fill="#000" >3</text>
<text transform="translate(31.94,76.30) scale(0.93,1)" font-size="24.0" fill="#000" >10</text>
<text transform="translate(54.55,63.50) scale(1.05,1)" font-size="14.0" fill="#000" >2</text>
<text transform="translate(32.24,102.50) scale(0.93,1)" font-size="24.0" fill="#000" >10</text>
<text transform="translate(55.51,89.70) scale(1.05,1)" font-size="14.0" fill="#000" >1</text>
<text transform="translate(31.94,128.60) scale(0.93,1)" font-size="24.0" fill="#000" >10</text>
<text transform="translate(54.14,115.80) scale(1.05,1)" font-size="14.0" fill="#000" >0</text>
<text transform="translate(27.94,154.90) scale(0.93,1)" font-size="24.0" fill="#000" >10</text>
<text transform="translate(49.65,142.10) scale(1.05,1)" font-size="14.0" fill="#000" >-1</text>
<text transform="translate(31.74,176.70) scale(0.93,1)" font-size="24.0" fill="#000" >10</text>
<text transform="translate(54.11,163.90) scale(1.05,1)" font-size="14.0" fill="#000" >4</text>
<text transform="translate(31.94,202.90) scale(0.93,1)" font-size="24.0" fill="#000" >10</text>
<text transform="translate(54.30,190.10) scale(1.05,1)" font-size="14.0" fill="#000" >3</text>
<text transform="translate(31.94,229.00) scale(0.93,1)" font-size="24.0" fill="#000" >10</text>
<text transform="translate(54.55,216.20) scale(1.05,1)" font-size="14.0" fill="#000" >2</text>
<text transform="translate(32.24,255.20) scale(0.93,1)" font-size="24.0" fill="#000" >10</text>
<text transform="translate(55.51,242.40) scale(1.05,1)" font-size="14.0" fill="#000" >1</text>
<text transform="translate(31.94,281.30) scale(0.93,1)" font-size="24.0" fill="#000" >10</text>
<text transform="translate(54.14,268.50) scale(1.05,1)" font-size="14.0" fill="#000" >0</text>
<text transform="translate(27.94,307.60) scale(0.93,1)" font-size="24.0" fill="#000" >10</text>
<text transform="translate(49.65,294.80) scale(1.05,1)" font-size="14.0" fill="#000" >-1</text>
<text transform="translate(49.24,331.30) scale(0.93,1)" font-size="24.0" fill="#000" >10</text>
<text transform="translate(71.05,317.70) scale(1.05,1)" font-size="14.0" fill="#000" >-2</text>
<text transform="translate(109.64,331.30) scale(0.93,1)" font-size="24.0" fill="#000" >10</text>
<text transform="translate(131.35,317.70) scale(1.05,1)" font-size="14.0" fill="#000" >-1</text>
<text transform="translate(170.84,331.30) scale(0.93,1)" font-size="24.0" fill="#000" >10</text>
<text transform="translate(193.04,317.70) scale(1.05,1)" font-size="14.0" fill="#000" >0</text>
<text transform="translate(231.54,331.30) scale(0.93,1)" font-size="24.0" fill="#000" >10</text>
<text transform="translate(254.51,317.70) scale(1.05,1)" font-size="14.0" fill="#000" >1</text>
<text x="159.00" y="353.5" font-size="24.5" text-anchor="middle">qσ</text>
<text transform="translate(262.24,331.30) scale(0.93,1)" font-size="24.0" fill="#000" >10</text>
<text transform="translate(284.05,317.70) scale(1.05,1)" font-size="14.0" fill="#000" >-2</text>
<text transform="translate(322.64,331.30) scale(0.93,1)" font-size="24.0" fill="#000" >10</text>
<text transform="translate(344.35,317.70) scale(1.05,1)" font-size="14.0" fill="#000" >-1</text>
<text transform="translate(383.84,331.30) scale(0.93,1)" font-size="24.0" fill="#000" >10</text>
<text transform="translate(406.04,317.70) scale(1.05,1)" font-size="14.0" fill="#000" >0</text>
<text transform="translate(444.54,331.30) scale(0.93,1)" font-size="24.0" fill="#000" >10</text>
<text transform="translate(467.51,317.70) scale(1.05,1)" font-size="14.0" fill="#000" >1</text>
<text x="372.00" y="353.5" font-size="24.5" text-anchor="middle">qσ</text>
<text transform="translate(475.24,331.30) scale(0.93,1)" font-size="24.0" fill="#000" >10</text>
<text transform="translate(497.05,317.70) scale(1.05,1)" font-size="14.0" fill="#000" >-2</text>
<text transform="translate(535.64,331.30) scale(0.93,1)" font-size="24.0" fill="#000" >10</text>
<text transform="translate(557.35,317.70) scale(1.05,1)" font-size="14.0" fill="#000" >-1</text>
<text transform="translate(596.84,331.30) scale(0.93,1)" font-size="24.0" fill="#000" >10</text>
<text transform="translate(619.04,317.70) scale(1.05,1)" font-size="14.0" fill="#000" >0</text>
<text transform="translate(657.54,331.30) scale(0.93,1)" font-size="24.0" fill="#000" >10</text>
<text transform="translate(680.51,317.70) scale(1.05,1)" font-size="14.0" fill="#000" >1</text>
<text x="585.00" y="353.5" font-size="24.5" text-anchor="middle">qσ</text>
<text transform="translate(16.1,84.15) rotate(-90)" font-size="24.3" text-anchor="middle">P(q)</text>
<text transform="translate(16.1,229.20) rotate(-90)" font-size="24.3" text-anchor="middle">P(q)</text>
<text x="85.94" y="50.70" font-size="20.5" font-weight="bold" fill="#000" >a</text>
<text x="300.54" y="50.80" font-size="20.5" font-weight="bold" fill="#000" >b</text>
<text x="511.70" y="50.80" font-size="20.5" font-weight="bold" fill="#000" >c</text>
<text x="85.47" y="202.70" font-size="20.5" font-weight="bold" fill="#000" >d</text>
<text x="300.10" y="202.80" font-size="20.5" font-weight="bold" fill="#000" >e</text>
<text x="512.05" y="202.80" font-size="20.5" font-weight="bold" fill="#000" >f</text>
<path d="M84.50 129.50C85.10 127.50 87.10 127.10 88.10 129.30L91.10 137.10C91.70 138.70 92.90 139.10 93.90 137.80" fill="none" stroke="#000" stroke-width="1.15" stroke-linecap="round"/>
<path d="M92.40 127.40L85.70 139.50" fill="none" stroke="#000" stroke-width="1.5" stroke-linecap="round"/>
<text transform="translate(93.07,142.50) scale(1.08,1)" font-size="12.5" fill="#000" >eff</text>
<text transform="translate(115.56,137.30) scale(1.08,1)" font-size="18.0" fill="#000" >≈</text>
<text transform="translate(129.82,136.30) scale(0.953,1)" font-size="18.6" fill="#000" >0.1</text>
<path d="M298.20 129.80C298.80 127.80 300.80 127.40 301.80 129.60L304.80 137.40C305.40 139.00 306.60 139.40 307.60 138.10" fill="none" stroke="#000" stroke-width="1.15" stroke-linecap="round"/>
<path d="M306.10 127.70L299.40 139.80" fill="none" stroke="#000" stroke-width="1.5" stroke-linecap="round"/>
<text transform="translate(306.77,142.80) scale(1.08,1)" font-size="12.5" fill="#000" >eff</text>
<text transform="translate(328.56,137.60) scale(1.08,1)" font-size="18.0" fill="#000" >≈</text>
<text transform="translate(343.62,136.60) scale(0.953,1)" font-size="18.6" fill="#000" >0.4</text>
<path d="M510.60 130.00C511.20 128.00 513.20 127.60 514.20 129.80L517.20 137.60C517.80 139.20 519.00 139.60 520.00 138.30" fill="none" stroke="#000" stroke-width="1.15" stroke-linecap="round"/>
<path d="M518.50 127.90L511.80 140.00" fill="none" stroke="#000" stroke-width="1.5" stroke-linecap="round"/>
<text transform="translate(519.17,143.00) scale(1.08,1)" font-size="12.5" fill="#000" >eff</text>
<text transform="translate(541.56,137.80) scale(1.08,1)" font-size="18.0" fill="#000" >≈</text>
<text transform="translate(556.02,136.80) scale(0.953,1)" font-size="18.6" fill="#000" >0.6</text>
<path d="M84.70 274.20C85.30 272.20 87.30 271.80 88.30 274.00L91.30 281.80C91.90 283.40 93.10 283.80 94.10 282.50" fill="none" stroke="#000" stroke-width="1.15" stroke-linecap="round"/>
<path d="M92.60 272.10L85.90 284.20" fill="none" stroke="#000" stroke-width="1.5" stroke-linecap="round"/>
<text transform="translate(93.27,287.20) scale(1.08,1)" font-size="12.5" fill="#000" >eff</text>
<text transform="translate(115.06,282.00) scale(1.08,1)" font-size="18.0" fill="#000" >≈</text>
<text transform="translate(130.12,281.00) scale(0.953,1)" font-size="18.6" fill="#000" >0.7</text>
<path d="M298.70 274.00C299.30 272.00 301.30 271.60 302.30 273.80L305.30 281.60C305.90 283.20 307.10 283.60 308.10 282.30" fill="none" stroke="#000" stroke-width="1.15" stroke-linecap="round"/>
<path d="M306.60 271.90L299.90 284.00" fill="none" stroke="#000" stroke-width="1.5" stroke-linecap="round"/>
<text transform="translate(307.27,287.00) scale(1.08,1)" font-size="12.5" fill="#000" >eff</text>
<text transform="translate(329.06,281.80) scale(1.08,1)" font-size="18.0" fill="#000" >≈</text>
<text transform="translate(344.84,280.80) scale(0.953,1)" font-size="18.6" fill="#000" >1.0</text>
<path d="M509.40 276.00C510.00 274.00 512.00 273.60 513.00 275.80L516.00 283.60C516.60 285.20 517.80 285.60 518.80 284.30" fill="none" stroke="#000" stroke-width="1.15" stroke-linecap="round"/>
<path d="M517.30 273.90L510.60 286.00" fill="none" stroke="#000" stroke-width="1.5" stroke-linecap="round"/>
<text transform="translate(517.97,289.00) scale(1.08,1)" font-size="12.5" fill="#000" >eff</text>
<text transform="translate(540.96,283.80) scale(1.08,1)" font-size="18.0" fill="#000" >≈</text>
<text transform="translate(554.54,282.80) scale(0.953,1)" font-size="18.6" fill="#000" >1.4</text>
</svg></body></html>
